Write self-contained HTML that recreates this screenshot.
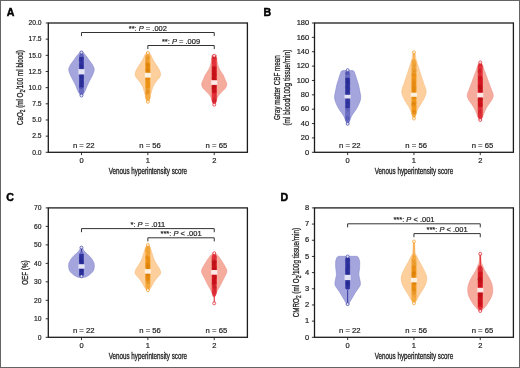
<!DOCTYPE html><html><head><meta charset="utf-8"><style>html,body{margin:0;padding:0;background:#fff}svg{display:block;filter:blur(0.25px)}text{font-family:"Liberation Sans", sans-serif;fill:#222;stroke:#222;stroke-width:0.2} text.tt{stroke-width:0.32} text.ty{stroke-width:0.28;fill:#222} text.pl{fill:#000;stroke:#000;stroke-width:0.45}</style></head><body>
<svg width="520" height="368" viewBox="0 0 520 368">
<rect x="0.5" y="0.5" width="519" height="367" fill="#fff" stroke="#646464" stroke-width="1"/>
<path d="M82.08,51.40 C82.48,51.83 83.67,53.07 84.48,54.00 C85.30,54.93 86.23,56.00 86.98,57.00 C87.73,58.00 88.15,58.83 88.98,60.00 C89.82,61.17 91.12,62.50 91.98,64.00 C92.85,65.50 94.02,67.33 94.18,69.00 C94.35,70.67 93.68,72.17 92.98,74.00 C92.28,75.83 90.90,78.17 89.98,80.00 C89.07,81.83 88.23,83.33 87.48,85.00 C86.73,86.67 86.07,88.67 85.48,90.00 C84.90,91.33 84.52,92.03 83.98,93.00 C83.45,93.97 82.57,95.33 82.28,95.80 L80.68,95.80 C80.40,95.33 79.52,93.97 78.98,93.00 C78.45,92.03 78.07,91.33 77.48,90.00 C76.90,88.67 76.23,86.67 75.48,85.00 C74.73,83.33 73.90,81.83 72.98,80.00 C72.07,78.17 70.68,75.83 69.98,74.00 C69.28,72.17 68.62,70.67 68.78,69.00 C68.95,67.33 70.12,65.50 70.98,64.00 C71.85,62.50 73.15,61.17 73.98,60.00 C74.82,58.83 75.23,58.00 75.98,57.00 C76.73,56.00 77.67,54.93 78.48,54.00 C79.30,53.07 80.48,51.83 80.88,51.40 Z" fill="#a4a5dc" stroke="#8588cc" stroke-width="0.6"/>
<line x1="81.48" y1="52.50" x2="81.48" y2="95.50" stroke="#3235a0" stroke-width="1.0"/>
<path d="M80.28,53.00 L82.68,53.00 L83.98,56.00 L83.98,92.00 L82.68,95.00 L80.28,95.00 L78.98,92.00 L78.98,56.00 Z" fill="#6a6dc2"/>
<rect x="79.28" y="57.00" width="4.4" height="30.50" fill="#3235a0"/>
<circle cx="81.82" cy="66.60" r="1.3" fill="none" stroke="#1e2080" stroke-width="0.4" stroke-opacity="0.45"/>
<circle cx="81.50" cy="68.36" r="1.3" fill="none" stroke="#1e2080" stroke-width="0.4" stroke-opacity="0.45"/>
<circle cx="81.32" cy="55.93" r="1.3" fill="none" stroke="#1e2080" stroke-width="0.4" stroke-opacity="0.45"/>
<circle cx="80.87" cy="87.73" r="1.3" fill="none" stroke="#1e2080" stroke-width="0.4" stroke-opacity="0.45"/>
<circle cx="82.53" cy="77.24" r="1.3" fill="none" stroke="#1e2080" stroke-width="0.4" stroke-opacity="0.45"/>
<circle cx="80.64" cy="65.16" r="1.3" fill="none" stroke="#1e2080" stroke-width="0.4" stroke-opacity="0.45"/>
<circle cx="80.78" cy="65.96" r="1.3" fill="none" stroke="#1e2080" stroke-width="0.4" stroke-opacity="0.45"/>
<circle cx="81.20" cy="77.43" r="1.3" fill="none" stroke="#1e2080" stroke-width="0.4" stroke-opacity="0.45"/>
<circle cx="80.51" cy="76.01" r="1.3" fill="none" stroke="#1e2080" stroke-width="0.4" stroke-opacity="0.45"/>
<circle cx="81.67" cy="70.96" r="1.3" fill="none" stroke="#1e2080" stroke-width="0.4" stroke-opacity="0.45"/>
<circle cx="82.13" cy="72.03" r="1.3" fill="none" stroke="#1e2080" stroke-width="0.4" stroke-opacity="0.45"/>
<circle cx="81.65" cy="82.36" r="1.3" fill="none" stroke="#1e2080" stroke-width="0.4" stroke-opacity="0.45"/>
<circle cx="82.54" cy="83.64" r="1.3" fill="none" stroke="#1e2080" stroke-width="0.4" stroke-opacity="0.45"/>
<circle cx="82.05" cy="57.96" r="1.3" fill="none" stroke="#1e2080" stroke-width="0.4" stroke-opacity="0.45"/>
<circle cx="80.47" cy="59.38" r="1.3" fill="none" stroke="#1e2080" stroke-width="0.4" stroke-opacity="0.45"/>
<circle cx="81.69" cy="66.18" r="1.3" fill="none" stroke="#1e2080" stroke-width="0.4" stroke-opacity="0.45"/>
<circle cx="82.23" cy="77.36" r="1.3" fill="none" stroke="#1e2080" stroke-width="0.4" stroke-opacity="0.45"/>
<circle cx="81.93" cy="80.89" r="1.3" fill="none" stroke="#1e2080" stroke-width="0.4" stroke-opacity="0.45"/>
<circle cx="81.23" cy="87.52" r="1.3" fill="none" stroke="#1e2080" stroke-width="0.4" stroke-opacity="0.45"/>
<circle cx="81.40" cy="81.08" r="1.3" fill="none" stroke="#1e2080" stroke-width="0.4" stroke-opacity="0.45"/>
<circle cx="80.51" cy="60.06" r="1.3" fill="none" stroke="#1e2080" stroke-width="0.4" stroke-opacity="0.45"/>
<circle cx="80.93" cy="85.27" r="1.3" fill="none" stroke="#1e2080" stroke-width="0.4" stroke-opacity="0.45"/>
<rect x="78.38" y="69.10" width="6.2" height="5.30" fill="#e4e4f4"/>
<circle cx="81.48" cy="52.50" r="1.5" fill="#fff" fill-opacity="0.8" stroke="#3235a0" stroke-width="0.7"/>
<circle cx="81.48" cy="95.50" r="1.5" fill="#fff" fill-opacity="0.8" stroke="#3235a0" stroke-width="0.7"/>
<path d="M148.45,52.00 C148.85,52.50 150.07,53.67 150.85,55.00 C151.63,56.33 152.23,58.33 153.15,60.00 C154.07,61.67 155.32,63.33 156.35,65.00 C157.38,66.67 158.65,68.50 159.35,70.00 C160.05,71.50 160.47,72.83 160.55,74.00 C160.63,75.17 160.38,76.00 159.85,77.00 C159.32,78.00 158.35,78.67 157.35,80.00 C156.35,81.33 154.77,83.33 153.85,85.00 C152.93,86.67 152.40,88.33 151.85,90.00 C151.30,91.67 150.97,93.33 150.55,95.00 C150.13,96.67 149.70,98.75 149.35,100.00 C149.00,101.25 148.60,102.08 148.45,102.50 L147.25,102.50 C147.10,102.08 146.70,101.25 146.35,100.00 C146.00,98.75 145.57,96.67 145.15,95.00 C144.73,93.33 144.40,91.67 143.85,90.00 C143.30,88.33 142.77,86.67 141.85,85.00 C140.93,83.33 139.35,81.33 138.35,80.00 C137.35,78.67 136.38,78.00 135.85,77.00 C135.32,76.00 135.07,75.17 135.15,74.00 C135.23,72.83 135.65,71.50 136.35,70.00 C137.05,68.50 138.32,66.67 139.35,65.00 C140.38,63.33 141.63,61.67 142.55,60.00 C143.47,58.33 144.07,56.33 144.85,55.00 C145.63,53.67 146.85,52.50 147.25,52.00 Z" fill="#fccf9c" stroke="#f9be80" stroke-width="0.6"/>
<line x1="147.85" y1="53.00" x2="147.85" y2="101.80" stroke="#f39a1e" stroke-width="1.0"/>
<path d="M146.65,53.50 L149.05,53.50 L150.35,56.50 L150.35,98.00 L149.05,101.00 L146.65,101.00 L145.35,98.00 L145.35,56.50 Z" fill="#f6ab40"/>
<rect x="145.65" y="62.45" width="4.4" height="25.34" fill="#f39a1e"/>
<circle cx="146.93" cy="72.07" r="1.3" fill="none" stroke="#d07808" stroke-width="0.4" stroke-opacity="0.45"/>
<circle cx="148.69" cy="74.84" r="1.3" fill="none" stroke="#d07808" stroke-width="0.4" stroke-opacity="0.45"/>
<circle cx="147.54" cy="66.73" r="1.3" fill="none" stroke="#d07808" stroke-width="0.4" stroke-opacity="0.45"/>
<circle cx="147.26" cy="60.67" r="1.3" fill="none" stroke="#d07808" stroke-width="0.4" stroke-opacity="0.45"/>
<circle cx="148.05" cy="64.58" r="1.3" fill="none" stroke="#d07808" stroke-width="0.4" stroke-opacity="0.45"/>
<circle cx="147.67" cy="65.98" r="1.3" fill="none" stroke="#d07808" stroke-width="0.4" stroke-opacity="0.45"/>
<circle cx="148.85" cy="71.04" r="1.3" fill="none" stroke="#d07808" stroke-width="0.4" stroke-opacity="0.45"/>
<circle cx="148.15" cy="72.45" r="1.3" fill="none" stroke="#d07808" stroke-width="0.4" stroke-opacity="0.45"/>
<circle cx="147.21" cy="56.46" r="1.3" fill="none" stroke="#d07808" stroke-width="0.4" stroke-opacity="0.45"/>
<circle cx="146.87" cy="61.21" r="1.3" fill="none" stroke="#d07808" stroke-width="0.4" stroke-opacity="0.45"/>
<circle cx="147.30" cy="82.67" r="1.3" fill="none" stroke="#d07808" stroke-width="0.4" stroke-opacity="0.45"/>
<circle cx="147.02" cy="70.00" r="1.3" fill="none" stroke="#d07808" stroke-width="0.4" stroke-opacity="0.45"/>
<circle cx="146.94" cy="75.63" r="1.3" fill="none" stroke="#d07808" stroke-width="0.4" stroke-opacity="0.45"/>
<circle cx="147.33" cy="58.35" r="1.3" fill="none" stroke="#d07808" stroke-width="0.4" stroke-opacity="0.45"/>
<circle cx="146.80" cy="92.87" r="1.3" fill="none" stroke="#d07808" stroke-width="0.4" stroke-opacity="0.45"/>
<circle cx="147.56" cy="86.57" r="1.3" fill="none" stroke="#d07808" stroke-width="0.4" stroke-opacity="0.45"/>
<circle cx="147.48" cy="78.80" r="1.3" fill="none" stroke="#d07808" stroke-width="0.4" stroke-opacity="0.45"/>
<circle cx="147.89" cy="88.64" r="1.3" fill="none" stroke="#d07808" stroke-width="0.4" stroke-opacity="0.45"/>
<circle cx="146.81" cy="70.39" r="1.3" fill="none" stroke="#d07808" stroke-width="0.4" stroke-opacity="0.45"/>
<circle cx="148.27" cy="66.77" r="1.3" fill="none" stroke="#d07808" stroke-width="0.4" stroke-opacity="0.45"/>
<circle cx="147.18" cy="63.97" r="1.3" fill="none" stroke="#d07808" stroke-width="0.4" stroke-opacity="0.45"/>
<circle cx="148.51" cy="76.27" r="1.3" fill="none" stroke="#d07808" stroke-width="0.4" stroke-opacity="0.45"/>
<circle cx="148.89" cy="69.29" r="1.3" fill="none" stroke="#d07808" stroke-width="0.4" stroke-opacity="0.45"/>
<circle cx="148.83" cy="72.30" r="1.3" fill="none" stroke="#d07808" stroke-width="0.4" stroke-opacity="0.45"/>
<circle cx="147.03" cy="87.93" r="1.3" fill="none" stroke="#d07808" stroke-width="0.4" stroke-opacity="0.45"/>
<circle cx="148.57" cy="91.81" r="1.3" fill="none" stroke="#d07808" stroke-width="0.4" stroke-opacity="0.45"/>
<circle cx="147.04" cy="70.14" r="1.3" fill="none" stroke="#d07808" stroke-width="0.4" stroke-opacity="0.45"/>
<circle cx="147.39" cy="63.52" r="1.3" fill="none" stroke="#d07808" stroke-width="0.4" stroke-opacity="0.45"/>
<circle cx="147.32" cy="64.93" r="1.3" fill="none" stroke="#d07808" stroke-width="0.4" stroke-opacity="0.45"/>
<circle cx="148.75" cy="73.40" r="1.3" fill="none" stroke="#d07808" stroke-width="0.4" stroke-opacity="0.45"/>
<circle cx="148.03" cy="70.30" r="1.3" fill="none" stroke="#d07808" stroke-width="0.4" stroke-opacity="0.45"/>
<circle cx="146.79" cy="78.76" r="1.3" fill="none" stroke="#d07808" stroke-width="0.4" stroke-opacity="0.45"/>
<circle cx="146.76" cy="74.41" r="1.3" fill="none" stroke="#d07808" stroke-width="0.4" stroke-opacity="0.45"/>
<circle cx="147.79" cy="91.46" r="1.3" fill="none" stroke="#d07808" stroke-width="0.4" stroke-opacity="0.45"/>
<circle cx="147.97" cy="68.98" r="1.3" fill="none" stroke="#d07808" stroke-width="0.4" stroke-opacity="0.45"/>
<circle cx="147.98" cy="90.75" r="1.3" fill="none" stroke="#d07808" stroke-width="0.4" stroke-opacity="0.45"/>
<circle cx="148.45" cy="65.30" r="1.3" fill="none" stroke="#d07808" stroke-width="0.4" stroke-opacity="0.45"/>
<circle cx="148.42" cy="77.62" r="1.3" fill="none" stroke="#d07808" stroke-width="0.4" stroke-opacity="0.45"/>
<circle cx="147.88" cy="82.60" r="1.3" fill="none" stroke="#d07808" stroke-width="0.4" stroke-opacity="0.45"/>
<circle cx="148.82" cy="78.83" r="1.3" fill="none" stroke="#d07808" stroke-width="0.4" stroke-opacity="0.45"/>
<circle cx="147.02" cy="93.40" r="1.3" fill="none" stroke="#d07808" stroke-width="0.4" stroke-opacity="0.45"/>
<circle cx="147.28" cy="74.50" r="1.3" fill="none" stroke="#d07808" stroke-width="0.4" stroke-opacity="0.45"/>
<circle cx="148.69" cy="84.86" r="1.3" fill="none" stroke="#d07808" stroke-width="0.4" stroke-opacity="0.45"/>
<circle cx="147.70" cy="93.04" r="1.3" fill="none" stroke="#d07808" stroke-width="0.4" stroke-opacity="0.45"/>
<circle cx="147.18" cy="77.99" r="1.3" fill="none" stroke="#d07808" stroke-width="0.4" stroke-opacity="0.45"/>
<circle cx="146.79" cy="68.63" r="1.3" fill="none" stroke="#d07808" stroke-width="0.4" stroke-opacity="0.45"/>
<circle cx="146.79" cy="79.82" r="1.3" fill="none" stroke="#d07808" stroke-width="0.4" stroke-opacity="0.45"/>
<circle cx="147.88" cy="69.25" r="1.3" fill="none" stroke="#d07808" stroke-width="0.4" stroke-opacity="0.45"/>
<circle cx="146.84" cy="58.48" r="1.3" fill="none" stroke="#d07808" stroke-width="0.4" stroke-opacity="0.45"/>
<circle cx="147.04" cy="90.50" r="1.3" fill="none" stroke="#d07808" stroke-width="0.4" stroke-opacity="0.45"/>
<circle cx="148.55" cy="73.56" r="1.3" fill="none" stroke="#d07808" stroke-width="0.4" stroke-opacity="0.45"/>
<circle cx="148.77" cy="65.78" r="1.3" fill="none" stroke="#d07808" stroke-width="0.4" stroke-opacity="0.45"/>
<circle cx="148.26" cy="57.75" r="1.3" fill="none" stroke="#d07808" stroke-width="0.4" stroke-opacity="0.45"/>
<circle cx="148.81" cy="73.70" r="1.3" fill="none" stroke="#d07808" stroke-width="0.4" stroke-opacity="0.45"/>
<circle cx="147.97" cy="75.05" r="1.3" fill="none" stroke="#d07808" stroke-width="0.4" stroke-opacity="0.45"/>
<circle cx="147.11" cy="64.83" r="1.3" fill="none" stroke="#d07808" stroke-width="0.4" stroke-opacity="0.45"/>
<rect x="144.75" y="72.80" width="6.2" height="4.80" fill="#fcf0e0"/>
<circle cx="147.85" cy="53.00" r="1.5" fill="#fff" fill-opacity="0.8" stroke="#f39a1e" stroke-width="0.7"/>
<circle cx="147.85" cy="101.80" r="1.5" fill="#fff" fill-opacity="0.8" stroke="#f39a1e" stroke-width="0.7"/>
<path d="M216.52,55.30 C216.58,56.08 216.70,58.38 216.92,60.00 C217.13,61.62 217.32,63.33 217.82,65.00 C218.32,66.67 219.02,68.33 219.92,70.00 C220.82,71.67 222.33,73.33 223.22,75.00 C224.10,76.67 224.62,78.50 225.22,80.00 C225.82,81.50 226.77,82.67 226.82,84.00 C226.87,85.33 226.38,86.67 225.52,88.00 C224.65,89.33 222.85,90.67 221.62,92.00 C220.38,93.33 218.98,94.67 218.12,96.00 C217.25,97.33 216.93,98.58 216.42,100.00 C215.90,101.42 215.25,103.75 215.02,104.50 L213.42,104.50 C213.18,103.75 212.53,101.42 212.02,100.00 C211.50,98.58 211.18,97.33 210.32,96.00 C209.45,94.67 208.05,93.33 206.82,92.00 C205.58,90.67 203.78,89.33 202.92,88.00 C202.05,86.67 201.57,85.33 201.62,84.00 C201.67,82.67 202.62,81.50 203.22,80.00 C203.82,78.50 204.33,76.67 205.22,75.00 C206.10,73.33 207.62,71.67 208.52,70.00 C209.42,68.33 210.12,66.67 210.62,65.00 C211.12,63.33 211.30,61.62 211.52,60.00 C211.73,58.38 211.85,56.08 211.92,55.30 Z" fill="#f5ac9c" stroke="#ef948c" stroke-width="0.6"/>
<line x1="214.22" y1="55.80" x2="214.22" y2="104.70" stroke="#de1826" stroke-width="1.0"/>
<path d="M213.02,55.50 L215.42,55.50 L216.72,58.50 L216.72,101.00 L215.42,104.00 L213.02,104.00 L211.72,101.00 L211.72,58.50 Z" fill="#e5343e"/>
<rect x="212.02" y="66.88" width="4.4" height="26.28" fill="#de1826"/>
<circle cx="214.79" cy="70.63" r="1.3" fill="none" stroke="#b01018" stroke-width="0.4" stroke-opacity="0.45"/>
<circle cx="214.16" cy="82.23" r="1.3" fill="none" stroke="#b01018" stroke-width="0.4" stroke-opacity="0.45"/>
<circle cx="214.92" cy="100.83" r="1.3" fill="none" stroke="#b01018" stroke-width="0.4" stroke-opacity="0.45"/>
<circle cx="214.95" cy="76.46" r="1.3" fill="none" stroke="#b01018" stroke-width="0.4" stroke-opacity="0.45"/>
<circle cx="214.63" cy="74.56" r="1.3" fill="none" stroke="#b01018" stroke-width="0.4" stroke-opacity="0.45"/>
<circle cx="213.88" cy="86.34" r="1.3" fill="none" stroke="#b01018" stroke-width="0.4" stroke-opacity="0.45"/>
<circle cx="213.27" cy="58.14" r="1.3" fill="none" stroke="#b01018" stroke-width="0.4" stroke-opacity="0.45"/>
<circle cx="213.48" cy="91.43" r="1.3" fill="none" stroke="#b01018" stroke-width="0.4" stroke-opacity="0.45"/>
<circle cx="213.76" cy="69.17" r="1.3" fill="none" stroke="#b01018" stroke-width="0.4" stroke-opacity="0.45"/>
<circle cx="214.10" cy="77.78" r="1.3" fill="none" stroke="#b01018" stroke-width="0.4" stroke-opacity="0.45"/>
<circle cx="213.12" cy="70.51" r="1.3" fill="none" stroke="#b01018" stroke-width="0.4" stroke-opacity="0.45"/>
<circle cx="214.22" cy="74.01" r="1.3" fill="none" stroke="#b01018" stroke-width="0.4" stroke-opacity="0.45"/>
<circle cx="213.79" cy="57.52" r="1.3" fill="none" stroke="#b01018" stroke-width="0.4" stroke-opacity="0.45"/>
<circle cx="214.56" cy="81.17" r="1.3" fill="none" stroke="#b01018" stroke-width="0.4" stroke-opacity="0.45"/>
<circle cx="215.28" cy="74.39" r="1.3" fill="none" stroke="#b01018" stroke-width="0.4" stroke-opacity="0.45"/>
<circle cx="214.95" cy="86.70" r="1.3" fill="none" stroke="#b01018" stroke-width="0.4" stroke-opacity="0.45"/>
<circle cx="214.89" cy="79.96" r="1.3" fill="none" stroke="#b01018" stroke-width="0.4" stroke-opacity="0.45"/>
<circle cx="213.19" cy="89.13" r="1.3" fill="none" stroke="#b01018" stroke-width="0.4" stroke-opacity="0.45"/>
<circle cx="214.49" cy="82.59" r="1.3" fill="none" stroke="#b01018" stroke-width="0.4" stroke-opacity="0.45"/>
<circle cx="213.12" cy="88.51" r="1.3" fill="none" stroke="#b01018" stroke-width="0.4" stroke-opacity="0.45"/>
<circle cx="214.57" cy="79.89" r="1.3" fill="none" stroke="#b01018" stroke-width="0.4" stroke-opacity="0.45"/>
<circle cx="213.70" cy="67.73" r="1.3" fill="none" stroke="#b01018" stroke-width="0.4" stroke-opacity="0.45"/>
<circle cx="214.74" cy="90.87" r="1.3" fill="none" stroke="#b01018" stroke-width="0.4" stroke-opacity="0.45"/>
<circle cx="214.62" cy="74.05" r="1.3" fill="none" stroke="#b01018" stroke-width="0.4" stroke-opacity="0.45"/>
<circle cx="213.44" cy="86.67" r="1.3" fill="none" stroke="#b01018" stroke-width="0.4" stroke-opacity="0.45"/>
<circle cx="213.71" cy="56.10" r="1.3" fill="none" stroke="#b01018" stroke-width="0.4" stroke-opacity="0.45"/>
<circle cx="214.60" cy="88.09" r="1.3" fill="none" stroke="#b01018" stroke-width="0.4" stroke-opacity="0.45"/>
<circle cx="213.38" cy="78.04" r="1.3" fill="none" stroke="#b01018" stroke-width="0.4" stroke-opacity="0.45"/>
<circle cx="215.27" cy="98.84" r="1.3" fill="none" stroke="#b01018" stroke-width="0.4" stroke-opacity="0.45"/>
<circle cx="214.13" cy="100.91" r="1.3" fill="none" stroke="#b01018" stroke-width="0.4" stroke-opacity="0.45"/>
<circle cx="213.58" cy="77.30" r="1.3" fill="none" stroke="#b01018" stroke-width="0.4" stroke-opacity="0.45"/>
<circle cx="214.27" cy="83.70" r="1.3" fill="none" stroke="#b01018" stroke-width="0.4" stroke-opacity="0.45"/>
<circle cx="213.12" cy="79.08" r="1.3" fill="none" stroke="#b01018" stroke-width="0.4" stroke-opacity="0.45"/>
<circle cx="213.78" cy="79.35" r="1.3" fill="none" stroke="#b01018" stroke-width="0.4" stroke-opacity="0.45"/>
<circle cx="215.15" cy="96.20" r="1.3" fill="none" stroke="#b01018" stroke-width="0.4" stroke-opacity="0.45"/>
<circle cx="213.98" cy="69.56" r="1.3" fill="none" stroke="#b01018" stroke-width="0.4" stroke-opacity="0.45"/>
<circle cx="213.72" cy="72.99" r="1.3" fill="none" stroke="#b01018" stroke-width="0.4" stroke-opacity="0.45"/>
<circle cx="214.95" cy="57.84" r="1.3" fill="none" stroke="#b01018" stroke-width="0.4" stroke-opacity="0.45"/>
<circle cx="214.24" cy="67.59" r="1.3" fill="none" stroke="#b01018" stroke-width="0.4" stroke-opacity="0.45"/>
<circle cx="213.23" cy="82.14" r="1.3" fill="none" stroke="#b01018" stroke-width="0.4" stroke-opacity="0.45"/>
<circle cx="214.77" cy="91.02" r="1.3" fill="none" stroke="#b01018" stroke-width="0.4" stroke-opacity="0.45"/>
<circle cx="213.22" cy="86.76" r="1.3" fill="none" stroke="#b01018" stroke-width="0.4" stroke-opacity="0.45"/>
<circle cx="214.16" cy="100.45" r="1.3" fill="none" stroke="#b01018" stroke-width="0.4" stroke-opacity="0.45"/>
<circle cx="214.74" cy="72.17" r="1.3" fill="none" stroke="#b01018" stroke-width="0.4" stroke-opacity="0.45"/>
<circle cx="214.34" cy="87.32" r="1.3" fill="none" stroke="#b01018" stroke-width="0.4" stroke-opacity="0.45"/>
<circle cx="213.47" cy="74.63" r="1.3" fill="none" stroke="#b01018" stroke-width="0.4" stroke-opacity="0.45"/>
<circle cx="215.11" cy="79.61" r="1.3" fill="none" stroke="#b01018" stroke-width="0.4" stroke-opacity="0.45"/>
<circle cx="213.32" cy="62.27" r="1.3" fill="none" stroke="#b01018" stroke-width="0.4" stroke-opacity="0.45"/>
<circle cx="213.64" cy="72.08" r="1.3" fill="none" stroke="#b01018" stroke-width="0.4" stroke-opacity="0.45"/>
<circle cx="214.27" cy="75.52" r="1.3" fill="none" stroke="#b01018" stroke-width="0.4" stroke-opacity="0.45"/>
<circle cx="213.25" cy="73.78" r="1.3" fill="none" stroke="#b01018" stroke-width="0.4" stroke-opacity="0.45"/>
<circle cx="213.59" cy="86.04" r="1.3" fill="none" stroke="#b01018" stroke-width="0.4" stroke-opacity="0.45"/>
<circle cx="214.00" cy="68.64" r="1.3" fill="none" stroke="#b01018" stroke-width="0.4" stroke-opacity="0.45"/>
<circle cx="214.68" cy="56.56" r="1.3" fill="none" stroke="#b01018" stroke-width="0.4" stroke-opacity="0.45"/>
<circle cx="213.98" cy="83.98" r="1.3" fill="none" stroke="#b01018" stroke-width="0.4" stroke-opacity="0.45"/>
<circle cx="213.46" cy="67.55" r="1.3" fill="none" stroke="#b01018" stroke-width="0.4" stroke-opacity="0.45"/>
<circle cx="215.19" cy="80.83" r="1.3" fill="none" stroke="#b01018" stroke-width="0.4" stroke-opacity="0.45"/>
<circle cx="214.80" cy="90.50" r="1.3" fill="none" stroke="#b01018" stroke-width="0.4" stroke-opacity="0.45"/>
<circle cx="213.20" cy="77.68" r="1.3" fill="none" stroke="#b01018" stroke-width="0.4" stroke-opacity="0.45"/>
<circle cx="215.14" cy="93.44" r="1.3" fill="none" stroke="#b01018" stroke-width="0.4" stroke-opacity="0.45"/>
<circle cx="213.40" cy="86.81" r="1.3" fill="none" stroke="#b01018" stroke-width="0.4" stroke-opacity="0.45"/>
<circle cx="213.27" cy="89.38" r="1.3" fill="none" stroke="#b01018" stroke-width="0.4" stroke-opacity="0.45"/>
<circle cx="213.97" cy="80.94" r="1.3" fill="none" stroke="#b01018" stroke-width="0.4" stroke-opacity="0.45"/>
<circle cx="214.16" cy="86.76" r="1.3" fill="none" stroke="#b01018" stroke-width="0.4" stroke-opacity="0.45"/>
<circle cx="215.23" cy="66.89" r="1.3" fill="none" stroke="#b01018" stroke-width="0.4" stroke-opacity="0.45"/>
<rect x="211.12" y="80.20" width="6.2" height="4.70" fill="#fce8e4"/>
<circle cx="214.22" cy="55.80" r="1.5" fill="#fff" fill-opacity="0.8" stroke="#de1826" stroke-width="0.7"/>
<circle cx="214.22" cy="104.70" r="1.5" fill="#fff" fill-opacity="0.8" stroke="#de1826" stroke-width="0.7"/>
<rect x="48.3" y="23" width="199.10000000000002" height="129.3" fill="none" stroke="#1c1c1c" stroke-width="1.3"/>
<line x1="45.699999999999996" y1="152.30" x2="48.3" y2="152.30" stroke="#1c1c1c" stroke-width="0.9"/>
<text transform="translate(41.60,154.50) scale(0.9,1)" text-anchor="end" font-size="7.5">0.0</text>
<line x1="45.699999999999996" y1="136.14" x2="48.3" y2="136.14" stroke="#1c1c1c" stroke-width="0.9"/>
<text transform="translate(41.60,138.34) scale(0.9,1)" text-anchor="end" font-size="7.5">2.5</text>
<line x1="45.699999999999996" y1="119.98" x2="48.3" y2="119.98" stroke="#1c1c1c" stroke-width="0.9"/>
<text transform="translate(41.60,122.18) scale(0.9,1)" text-anchor="end" font-size="7.5">5.0</text>
<line x1="45.699999999999996" y1="103.81" x2="48.3" y2="103.81" stroke="#1c1c1c" stroke-width="0.9"/>
<text transform="translate(41.60,106.01) scale(0.9,1)" text-anchor="end" font-size="7.5">7.5</text>
<line x1="45.699999999999996" y1="87.65" x2="48.3" y2="87.65" stroke="#1c1c1c" stroke-width="0.9"/>
<text transform="translate(41.60,89.85) scale(0.9,1)" text-anchor="end" font-size="7.5">10.0</text>
<line x1="45.699999999999996" y1="71.49" x2="48.3" y2="71.49" stroke="#1c1c1c" stroke-width="0.9"/>
<text transform="translate(41.60,73.69) scale(0.9,1)" text-anchor="end" font-size="7.5">12.5</text>
<line x1="45.699999999999996" y1="55.33" x2="48.3" y2="55.33" stroke="#1c1c1c" stroke-width="0.9"/>
<text transform="translate(41.60,57.53) scale(0.9,1)" text-anchor="end" font-size="7.5">15.0</text>
<line x1="45.699999999999996" y1="39.16" x2="48.3" y2="39.16" stroke="#1c1c1c" stroke-width="0.9"/>
<text transform="translate(41.60,41.36) scale(0.9,1)" text-anchor="end" font-size="7.5">17.5</text>
<line x1="45.699999999999996" y1="23.00" x2="48.3" y2="23.00" stroke="#1c1c1c" stroke-width="0.9"/>
<text transform="translate(41.60,25.20) scale(0.9,1)" text-anchor="end" font-size="7.5">20.0</text>
<line x1="81.48" y1="152.3" x2="81.48" y2="155.10000000000002" stroke="#1c1c1c" stroke-width="0.9"/>
<text x="81.48" y="163.10000000000002" text-anchor="middle" font-size="7.5">0</text>
<line x1="147.85" y1="152.3" x2="147.85" y2="155.10000000000002" stroke="#1c1c1c" stroke-width="0.9"/>
<text x="147.85" y="163.10000000000002" text-anchor="middle" font-size="7.5">1</text>
<line x1="214.22" y1="152.3" x2="214.22" y2="155.10000000000002" stroke="#1c1c1c" stroke-width="0.9"/>
<text x="214.22" y="163.10000000000002" text-anchor="middle" font-size="7.5">2</text>
<text x="83.68" y="147.9" text-anchor="middle" font-size="7.7">n = 22</text>
<text x="150.05" y="147.9" text-anchor="middle" font-size="7.7">n = 56</text>
<text x="216.42" y="147.9" text-anchor="middle" font-size="7.7">n = 65</text>
<text transform="translate(147.85,174.3) scale(0.72,1)" text-anchor="middle" font-size="8.7" class="tt">Venous hyperintensity score</text>
<text x="6.7" y="15.6" font-size="10.6" font-weight="bold" class="pl">A</text>
<path d="M81.48,36.10 V32.50 H214.22 V36.10" fill="none" stroke="#333" stroke-width="1"/>
<text x="147.85" y="30.90" text-anchor="middle" font-size="7.5">**: <tspan font-style="italic">P</tspan> = .002</text>
<path d="M147.85,49.10 V45.50 H214.22 V49.10" fill="none" stroke="#333" stroke-width="1"/>
<text x="181.03" y="43.90" text-anchor="middle" font-size="7.5">**: <tspan font-style="italic">P</tspan> = .009</text>
<text transform="translate(22.6,87.65) rotate(-90) scale(0.72,1)" text-anchor="middle" font-size="8.7" class="ty">CaO<tspan font-size="6.6" dy="1.9">2</tspan><tspan dy="-1.9"> (ml O<tspan font-size="6.6" dy="1.9">2</tspan><tspan dy="-1.9">/100 ml blood)</tspan></tspan></text>
<path d="M352.15,70.60 C352.43,70.70 353.43,70.80 353.85,71.20 C354.27,71.60 354.33,72.20 354.65,73.00 C354.97,73.80 355.37,74.83 355.75,76.00 C356.13,77.17 356.53,78.67 356.95,80.00 C357.37,81.33 357.88,82.67 358.25,84.00 C358.62,85.33 358.87,86.67 359.15,88.00 C359.43,89.33 359.70,90.67 359.95,92.00 C360.20,93.33 360.58,94.67 360.65,96.00 C360.72,97.33 360.65,98.67 360.35,100.00 C360.05,101.33 359.42,102.67 358.85,104.00 C358.28,105.33 357.72,106.67 356.95,108.00 C356.18,109.33 355.15,110.67 354.25,112.00 C353.35,113.33 352.28,114.67 351.55,116.00 C350.82,117.33 350.40,118.67 349.85,120.00 C349.30,121.33 348.52,123.33 348.25,124.00 L347.05,124.00 C346.78,123.33 346.00,121.33 345.45,120.00 C344.90,118.67 344.48,117.33 343.75,116.00 C343.02,114.67 341.95,113.33 341.05,112.00 C340.15,110.67 339.12,109.33 338.35,108.00 C337.58,106.67 337.02,105.33 336.45,104.00 C335.88,102.67 335.25,101.33 334.95,100.00 C334.65,98.67 334.58,97.33 334.65,96.00 C334.72,94.67 335.10,93.33 335.35,92.00 C335.60,90.67 335.87,89.33 336.15,88.00 C336.43,86.67 336.68,85.33 337.05,84.00 C337.42,82.67 337.93,81.33 338.35,80.00 C338.77,78.67 339.17,77.17 339.55,76.00 C339.93,74.83 340.33,73.80 340.65,73.00 C340.97,72.20 341.03,71.60 341.45,71.20 C341.87,70.80 342.87,70.70 343.15,70.60 Z" fill="#a4a5dc" stroke="#8588cc" stroke-width="0.6"/>
<line x1="347.65" y1="70.20" x2="347.65" y2="123.80" stroke="#3235a0" stroke-width="1.0"/>
<path d="M346.45,70.50 L348.85,70.50 L350.15,73.50 L350.15,120.00 L348.85,123.00 L346.45,123.00 L345.15,120.00 L345.15,73.50 Z" fill="#6a6dc2"/>
<rect x="345.45" y="78.00" width="4.4" height="30.00" fill="#3235a0"/>
<circle cx="346.60" cy="107.49" r="1.3" fill="none" stroke="#1e2080" stroke-width="0.4" stroke-opacity="0.45"/>
<circle cx="347.47" cy="96.66" r="1.3" fill="none" stroke="#1e2080" stroke-width="0.4" stroke-opacity="0.45"/>
<circle cx="348.59" cy="84.01" r="1.3" fill="none" stroke="#1e2080" stroke-width="0.4" stroke-opacity="0.45"/>
<circle cx="347.29" cy="82.41" r="1.3" fill="none" stroke="#1e2080" stroke-width="0.4" stroke-opacity="0.45"/>
<circle cx="346.99" cy="92.58" r="1.3" fill="none" stroke="#1e2080" stroke-width="0.4" stroke-opacity="0.45"/>
<circle cx="348.68" cy="97.01" r="1.3" fill="none" stroke="#1e2080" stroke-width="0.4" stroke-opacity="0.45"/>
<circle cx="347.06" cy="86.87" r="1.3" fill="none" stroke="#1e2080" stroke-width="0.4" stroke-opacity="0.45"/>
<circle cx="347.20" cy="82.13" r="1.3" fill="none" stroke="#1e2080" stroke-width="0.4" stroke-opacity="0.45"/>
<circle cx="347.47" cy="80.33" r="1.3" fill="none" stroke="#1e2080" stroke-width="0.4" stroke-opacity="0.45"/>
<circle cx="347.02" cy="78.19" r="1.3" fill="none" stroke="#1e2080" stroke-width="0.4" stroke-opacity="0.45"/>
<circle cx="347.42" cy="73.22" r="1.3" fill="none" stroke="#1e2080" stroke-width="0.4" stroke-opacity="0.45"/>
<circle cx="348.01" cy="109.68" r="1.3" fill="none" stroke="#1e2080" stroke-width="0.4" stroke-opacity="0.45"/>
<circle cx="347.28" cy="90.38" r="1.3" fill="none" stroke="#1e2080" stroke-width="0.4" stroke-opacity="0.45"/>
<circle cx="347.17" cy="79.39" r="1.3" fill="none" stroke="#1e2080" stroke-width="0.4" stroke-opacity="0.45"/>
<circle cx="348.36" cy="81.39" r="1.3" fill="none" stroke="#1e2080" stroke-width="0.4" stroke-opacity="0.45"/>
<circle cx="347.37" cy="73.09" r="1.3" fill="none" stroke="#1e2080" stroke-width="0.4" stroke-opacity="0.45"/>
<circle cx="347.35" cy="118.77" r="1.3" fill="none" stroke="#1e2080" stroke-width="0.4" stroke-opacity="0.45"/>
<circle cx="347.45" cy="117.59" r="1.3" fill="none" stroke="#1e2080" stroke-width="0.4" stroke-opacity="0.45"/>
<circle cx="346.69" cy="72.63" r="1.3" fill="none" stroke="#1e2080" stroke-width="0.4" stroke-opacity="0.45"/>
<circle cx="348.66" cy="88.30" r="1.3" fill="none" stroke="#1e2080" stroke-width="0.4" stroke-opacity="0.45"/>
<circle cx="348.13" cy="102.89" r="1.3" fill="none" stroke="#1e2080" stroke-width="0.4" stroke-opacity="0.45"/>
<circle cx="346.56" cy="87.12" r="1.3" fill="none" stroke="#1e2080" stroke-width="0.4" stroke-opacity="0.45"/>
<rect x="344.55" y="94.80" width="6.2" height="3.70" fill="#e4e4f4"/>
<circle cx="347.65" cy="70.20" r="1.5" fill="#fff" fill-opacity="0.8" stroke="#3235a0" stroke-width="0.7"/>
<circle cx="347.65" cy="123.80" r="1.5" fill="#fff" fill-opacity="0.8" stroke="#3235a0" stroke-width="0.7"/>
<path d="M414.75,52.00 C414.83,52.33 415.02,52.67 415.25,54.00 C415.48,55.33 415.73,58.17 416.15,60.00 C416.57,61.83 417.22,63.33 417.75,65.00 C418.28,66.67 418.82,68.33 419.35,70.00 C419.88,71.67 420.40,73.33 420.95,75.00 C421.50,76.67 422.10,78.33 422.65,80.00 C423.20,81.67 423.78,83.67 424.25,85.00 C424.72,86.33 425.13,86.83 425.45,88.00 C425.77,89.17 426.20,90.67 426.15,92.00 C426.10,93.33 425.63,94.67 425.15,96.00 C424.67,97.33 423.97,98.67 423.25,100.00 C422.53,101.33 421.67,102.67 420.85,104.00 C420.03,105.33 419.05,106.67 418.35,108.00 C417.65,109.33 417.13,110.67 416.65,112.00 C416.17,113.33 415.82,114.83 415.45,116.00 C415.08,117.17 414.62,118.50 414.45,119.00 L413.45,119.00 C413.28,118.50 412.82,117.17 412.45,116.00 C412.08,114.83 411.73,113.33 411.25,112.00 C410.77,110.67 410.25,109.33 409.55,108.00 C408.85,106.67 407.87,105.33 407.05,104.00 C406.23,102.67 405.37,101.33 404.65,100.00 C403.93,98.67 403.23,97.33 402.75,96.00 C402.27,94.67 401.80,93.33 401.75,92.00 C401.70,90.67 402.13,89.17 402.45,88.00 C402.77,86.83 403.18,86.33 403.65,85.00 C404.12,83.67 404.70,81.67 405.25,80.00 C405.80,78.33 406.40,76.67 406.95,75.00 C407.50,73.33 408.02,71.67 408.55,70.00 C409.08,68.33 409.62,66.67 410.15,65.00 C410.68,63.33 411.33,61.83 411.75,60.00 C412.17,58.17 412.42,55.33 412.65,54.00 C412.88,52.67 413.07,52.33 413.15,52.00 Z" fill="#fccf9c" stroke="#f9be80" stroke-width="0.6"/>
<line x1="413.95" y1="52.30" x2="413.95" y2="118.50" stroke="#f39a1e" stroke-width="1.0"/>
<path d="M412.75,59.00 L415.15,59.00 L416.45,62.00 L416.45,114.00 L415.15,117.00 L412.75,117.00 L411.45,114.00 L411.45,62.00 Z" fill="#f6ab40"/>
<rect x="411.75" y="74.00" width="4.4" height="38.00" fill="#f39a1e"/>
<circle cx="413.94" cy="73.56" r="1.3" fill="none" stroke="#d07808" stroke-width="0.4" stroke-opacity="0.45"/>
<circle cx="414.62" cy="112.83" r="1.3" fill="none" stroke="#d07808" stroke-width="0.4" stroke-opacity="0.45"/>
<circle cx="413.65" cy="78.01" r="1.3" fill="none" stroke="#d07808" stroke-width="0.4" stroke-opacity="0.45"/>
<circle cx="413.28" cy="104.37" r="1.3" fill="none" stroke="#d07808" stroke-width="0.4" stroke-opacity="0.45"/>
<circle cx="412.99" cy="102.67" r="1.3" fill="none" stroke="#d07808" stroke-width="0.4" stroke-opacity="0.45"/>
<circle cx="413.06" cy="74.36" r="1.3" fill="none" stroke="#d07808" stroke-width="0.4" stroke-opacity="0.45"/>
<circle cx="413.83" cy="87.91" r="1.3" fill="none" stroke="#d07808" stroke-width="0.4" stroke-opacity="0.45"/>
<circle cx="414.21" cy="72.58" r="1.3" fill="none" stroke="#d07808" stroke-width="0.4" stroke-opacity="0.45"/>
<circle cx="414.71" cy="98.10" r="1.3" fill="none" stroke="#d07808" stroke-width="0.4" stroke-opacity="0.45"/>
<circle cx="414.70" cy="97.54" r="1.3" fill="none" stroke="#d07808" stroke-width="0.4" stroke-opacity="0.45"/>
<circle cx="413.39" cy="70.55" r="1.3" fill="none" stroke="#d07808" stroke-width="0.4" stroke-opacity="0.45"/>
<circle cx="413.72" cy="92.54" r="1.3" fill="none" stroke="#d07808" stroke-width="0.4" stroke-opacity="0.45"/>
<circle cx="413.50" cy="112.03" r="1.3" fill="none" stroke="#d07808" stroke-width="0.4" stroke-opacity="0.45"/>
<circle cx="414.99" cy="65.91" r="1.3" fill="none" stroke="#d07808" stroke-width="0.4" stroke-opacity="0.45"/>
<circle cx="414.56" cy="85.05" r="1.3" fill="none" stroke="#d07808" stroke-width="0.4" stroke-opacity="0.45"/>
<circle cx="414.16" cy="113.85" r="1.3" fill="none" stroke="#d07808" stroke-width="0.4" stroke-opacity="0.45"/>
<circle cx="413.66" cy="94.96" r="1.3" fill="none" stroke="#d07808" stroke-width="0.4" stroke-opacity="0.45"/>
<circle cx="413.41" cy="67.20" r="1.3" fill="none" stroke="#d07808" stroke-width="0.4" stroke-opacity="0.45"/>
<circle cx="413.30" cy="93.77" r="1.3" fill="none" stroke="#d07808" stroke-width="0.4" stroke-opacity="0.45"/>
<circle cx="413.54" cy="98.34" r="1.3" fill="none" stroke="#d07808" stroke-width="0.4" stroke-opacity="0.45"/>
<circle cx="413.07" cy="90.79" r="1.3" fill="none" stroke="#d07808" stroke-width="0.4" stroke-opacity="0.45"/>
<circle cx="414.26" cy="81.93" r="1.3" fill="none" stroke="#d07808" stroke-width="0.4" stroke-opacity="0.45"/>
<circle cx="414.38" cy="64.29" r="1.3" fill="none" stroke="#d07808" stroke-width="0.4" stroke-opacity="0.45"/>
<circle cx="413.53" cy="82.77" r="1.3" fill="none" stroke="#d07808" stroke-width="0.4" stroke-opacity="0.45"/>
<circle cx="413.77" cy="91.86" r="1.3" fill="none" stroke="#d07808" stroke-width="0.4" stroke-opacity="0.45"/>
<circle cx="414.45" cy="80.10" r="1.3" fill="none" stroke="#d07808" stroke-width="0.4" stroke-opacity="0.45"/>
<circle cx="414.83" cy="70.81" r="1.3" fill="none" stroke="#d07808" stroke-width="0.4" stroke-opacity="0.45"/>
<circle cx="412.88" cy="85.73" r="1.3" fill="none" stroke="#d07808" stroke-width="0.4" stroke-opacity="0.45"/>
<circle cx="414.85" cy="90.99" r="1.3" fill="none" stroke="#d07808" stroke-width="0.4" stroke-opacity="0.45"/>
<circle cx="413.17" cy="80.51" r="1.3" fill="none" stroke="#d07808" stroke-width="0.4" stroke-opacity="0.45"/>
<circle cx="414.89" cy="75.43" r="1.3" fill="none" stroke="#d07808" stroke-width="0.4" stroke-opacity="0.45"/>
<circle cx="414.92" cy="70.45" r="1.3" fill="none" stroke="#d07808" stroke-width="0.4" stroke-opacity="0.45"/>
<circle cx="413.20" cy="94.98" r="1.3" fill="none" stroke="#d07808" stroke-width="0.4" stroke-opacity="0.45"/>
<circle cx="413.74" cy="104.58" r="1.3" fill="none" stroke="#d07808" stroke-width="0.4" stroke-opacity="0.45"/>
<circle cx="413.73" cy="69.61" r="1.3" fill="none" stroke="#d07808" stroke-width="0.4" stroke-opacity="0.45"/>
<circle cx="413.12" cy="89.04" r="1.3" fill="none" stroke="#d07808" stroke-width="0.4" stroke-opacity="0.45"/>
<circle cx="414.09" cy="111.04" r="1.3" fill="none" stroke="#d07808" stroke-width="0.4" stroke-opacity="0.45"/>
<circle cx="414.69" cy="102.93" r="1.3" fill="none" stroke="#d07808" stroke-width="0.4" stroke-opacity="0.45"/>
<circle cx="413.52" cy="90.90" r="1.3" fill="none" stroke="#d07808" stroke-width="0.4" stroke-opacity="0.45"/>
<circle cx="413.79" cy="83.36" r="1.3" fill="none" stroke="#d07808" stroke-width="0.4" stroke-opacity="0.45"/>
<circle cx="413.81" cy="97.21" r="1.3" fill="none" stroke="#d07808" stroke-width="0.4" stroke-opacity="0.45"/>
<circle cx="414.53" cy="87.39" r="1.3" fill="none" stroke="#d07808" stroke-width="0.4" stroke-opacity="0.45"/>
<circle cx="413.25" cy="104.24" r="1.3" fill="none" stroke="#d07808" stroke-width="0.4" stroke-opacity="0.45"/>
<circle cx="413.13" cy="86.45" r="1.3" fill="none" stroke="#d07808" stroke-width="0.4" stroke-opacity="0.45"/>
<circle cx="413.82" cy="83.97" r="1.3" fill="none" stroke="#d07808" stroke-width="0.4" stroke-opacity="0.45"/>
<circle cx="414.25" cy="88.59" r="1.3" fill="none" stroke="#d07808" stroke-width="0.4" stroke-opacity="0.45"/>
<circle cx="412.97" cy="104.10" r="1.3" fill="none" stroke="#d07808" stroke-width="0.4" stroke-opacity="0.45"/>
<circle cx="414.94" cy="88.23" r="1.3" fill="none" stroke="#d07808" stroke-width="0.4" stroke-opacity="0.45"/>
<circle cx="415.01" cy="106.27" r="1.3" fill="none" stroke="#d07808" stroke-width="0.4" stroke-opacity="0.45"/>
<circle cx="414.58" cy="112.13" r="1.3" fill="none" stroke="#d07808" stroke-width="0.4" stroke-opacity="0.45"/>
<circle cx="413.62" cy="112.97" r="1.3" fill="none" stroke="#d07808" stroke-width="0.4" stroke-opacity="0.45"/>
<circle cx="414.82" cy="102.86" r="1.3" fill="none" stroke="#d07808" stroke-width="0.4" stroke-opacity="0.45"/>
<circle cx="413.55" cy="74.25" r="1.3" fill="none" stroke="#d07808" stroke-width="0.4" stroke-opacity="0.45"/>
<circle cx="413.20" cy="61.14" r="1.3" fill="none" stroke="#d07808" stroke-width="0.4" stroke-opacity="0.45"/>
<circle cx="414.58" cy="110.93" r="1.3" fill="none" stroke="#d07808" stroke-width="0.4" stroke-opacity="0.45"/>
<circle cx="414.77" cy="95.91" r="1.3" fill="none" stroke="#d07808" stroke-width="0.4" stroke-opacity="0.45"/>
<rect x="410.85" y="92.70" width="6.2" height="4.10" fill="#fcf0e0"/>
<circle cx="413.95" cy="52.30" r="1.5" fill="#fff" fill-opacity="0.8" stroke="#f39a1e" stroke-width="0.7"/>
<circle cx="413.95" cy="118.50" r="1.5" fill="#fff" fill-opacity="0.8" stroke="#f39a1e" stroke-width="0.7"/>
<path d="M481.05,62.40 C481.37,63.00 482.43,64.73 482.95,66.00 C483.47,67.27 483.70,68.67 484.15,70.00 C484.60,71.33 485.15,72.67 485.65,74.00 C486.15,75.33 486.67,76.67 487.15,78.00 C487.63,79.33 488.07,80.67 488.55,82.00 C489.03,83.33 489.55,84.67 490.05,86.00 C490.55,87.33 491.10,88.83 491.55,90.00 C492.00,91.17 492.47,92.00 492.75,93.00 C493.03,94.00 493.42,94.83 493.25,96.00 C493.08,97.17 492.48,98.67 491.75,100.00 C491.02,101.33 489.75,102.67 488.85,104.00 C487.95,105.33 487.08,106.67 486.35,108.00 C485.62,109.33 485.02,110.67 484.45,112.00 C483.88,113.33 483.55,114.62 482.95,116.00 C482.35,117.38 481.20,119.58 480.85,120.30 L479.65,120.30 C479.30,119.58 478.15,117.38 477.55,116.00 C476.95,114.62 476.62,113.33 476.05,112.00 C475.48,110.67 474.88,109.33 474.15,108.00 C473.42,106.67 472.55,105.33 471.65,104.00 C470.75,102.67 469.48,101.33 468.75,100.00 C468.02,98.67 467.42,97.17 467.25,96.00 C467.08,94.83 467.47,94.00 467.75,93.00 C468.03,92.00 468.50,91.17 468.95,90.00 C469.40,88.83 469.95,87.33 470.45,86.00 C470.95,84.67 471.47,83.33 471.95,82.00 C472.43,80.67 472.87,79.33 473.35,78.00 C473.83,76.67 474.35,75.33 474.85,74.00 C475.35,72.67 475.90,71.33 476.35,70.00 C476.80,68.67 477.03,67.27 477.55,66.00 C478.07,64.73 479.13,63.00 479.45,62.40 Z" fill="#f5ac9c" stroke="#ef948c" stroke-width="0.6"/>
<line x1="480.25" y1="62.40" x2="480.25" y2="120.00" stroke="#de1826" stroke-width="1.0"/>
<path d="M479.05,63.00 L481.45,63.00 L482.75,66.00 L482.75,116.50 L481.45,119.50 L479.05,119.50 L477.75,116.50 L477.75,66.00 Z" fill="#e5343e"/>
<rect x="478.05" y="76.68" width="4.4" height="30.33" fill="#de1826"/>
<circle cx="481.09" cy="94.37" r="1.3" fill="none" stroke="#b01018" stroke-width="0.4" stroke-opacity="0.45"/>
<circle cx="480.90" cy="98.58" r="1.3" fill="none" stroke="#b01018" stroke-width="0.4" stroke-opacity="0.45"/>
<circle cx="480.83" cy="95.62" r="1.3" fill="none" stroke="#b01018" stroke-width="0.4" stroke-opacity="0.45"/>
<circle cx="480.79" cy="87.99" r="1.3" fill="none" stroke="#b01018" stroke-width="0.4" stroke-opacity="0.45"/>
<circle cx="479.15" cy="100.50" r="1.3" fill="none" stroke="#b01018" stroke-width="0.4" stroke-opacity="0.45"/>
<circle cx="480.51" cy="64.91" r="1.3" fill="none" stroke="#b01018" stroke-width="0.4" stroke-opacity="0.45"/>
<circle cx="481.12" cy="87.42" r="1.3" fill="none" stroke="#b01018" stroke-width="0.4" stroke-opacity="0.45"/>
<circle cx="480.59" cy="70.46" r="1.3" fill="none" stroke="#b01018" stroke-width="0.4" stroke-opacity="0.45"/>
<circle cx="479.93" cy="64.26" r="1.3" fill="none" stroke="#b01018" stroke-width="0.4" stroke-opacity="0.45"/>
<circle cx="480.52" cy="96.28" r="1.3" fill="none" stroke="#b01018" stroke-width="0.4" stroke-opacity="0.45"/>
<circle cx="481.21" cy="89.83" r="1.3" fill="none" stroke="#b01018" stroke-width="0.4" stroke-opacity="0.45"/>
<circle cx="479.36" cy="76.76" r="1.3" fill="none" stroke="#b01018" stroke-width="0.4" stroke-opacity="0.45"/>
<circle cx="480.87" cy="99.06" r="1.3" fill="none" stroke="#b01018" stroke-width="0.4" stroke-opacity="0.45"/>
<circle cx="479.18" cy="85.71" r="1.3" fill="none" stroke="#b01018" stroke-width="0.4" stroke-opacity="0.45"/>
<circle cx="479.92" cy="99.44" r="1.3" fill="none" stroke="#b01018" stroke-width="0.4" stroke-opacity="0.45"/>
<circle cx="481.21" cy="99.48" r="1.3" fill="none" stroke="#b01018" stroke-width="0.4" stroke-opacity="0.45"/>
<circle cx="481.14" cy="104.44" r="1.3" fill="none" stroke="#b01018" stroke-width="0.4" stroke-opacity="0.45"/>
<circle cx="479.28" cy="85.94" r="1.3" fill="none" stroke="#b01018" stroke-width="0.4" stroke-opacity="0.45"/>
<circle cx="480.36" cy="107.01" r="1.3" fill="none" stroke="#b01018" stroke-width="0.4" stroke-opacity="0.45"/>
<circle cx="479.59" cy="116.16" r="1.3" fill="none" stroke="#b01018" stroke-width="0.4" stroke-opacity="0.45"/>
<circle cx="480.56" cy="97.36" r="1.3" fill="none" stroke="#b01018" stroke-width="0.4" stroke-opacity="0.45"/>
<circle cx="479.83" cy="108.96" r="1.3" fill="none" stroke="#b01018" stroke-width="0.4" stroke-opacity="0.45"/>
<circle cx="481.11" cy="79.97" r="1.3" fill="none" stroke="#b01018" stroke-width="0.4" stroke-opacity="0.45"/>
<circle cx="480.78" cy="105.10" r="1.3" fill="none" stroke="#b01018" stroke-width="0.4" stroke-opacity="0.45"/>
<circle cx="479.38" cy="88.57" r="1.3" fill="none" stroke="#b01018" stroke-width="0.4" stroke-opacity="0.45"/>
<circle cx="479.89" cy="76.12" r="1.3" fill="none" stroke="#b01018" stroke-width="0.4" stroke-opacity="0.45"/>
<circle cx="480.30" cy="87.64" r="1.3" fill="none" stroke="#b01018" stroke-width="0.4" stroke-opacity="0.45"/>
<circle cx="479.72" cy="112.72" r="1.3" fill="none" stroke="#b01018" stroke-width="0.4" stroke-opacity="0.45"/>
<circle cx="481.15" cy="81.56" r="1.3" fill="none" stroke="#b01018" stroke-width="0.4" stroke-opacity="0.45"/>
<circle cx="480.61" cy="98.63" r="1.3" fill="none" stroke="#b01018" stroke-width="0.4" stroke-opacity="0.45"/>
<circle cx="479.83" cy="103.94" r="1.3" fill="none" stroke="#b01018" stroke-width="0.4" stroke-opacity="0.45"/>
<circle cx="479.38" cy="71.17" r="1.3" fill="none" stroke="#b01018" stroke-width="0.4" stroke-opacity="0.45"/>
<circle cx="479.24" cy="71.01" r="1.3" fill="none" stroke="#b01018" stroke-width="0.4" stroke-opacity="0.45"/>
<circle cx="480.68" cy="102.13" r="1.3" fill="none" stroke="#b01018" stroke-width="0.4" stroke-opacity="0.45"/>
<circle cx="480.45" cy="104.63" r="1.3" fill="none" stroke="#b01018" stroke-width="0.4" stroke-opacity="0.45"/>
<circle cx="479.40" cy="69.05" r="1.3" fill="none" stroke="#b01018" stroke-width="0.4" stroke-opacity="0.45"/>
<circle cx="479.37" cy="79.24" r="1.3" fill="none" stroke="#b01018" stroke-width="0.4" stroke-opacity="0.45"/>
<circle cx="479.85" cy="105.79" r="1.3" fill="none" stroke="#b01018" stroke-width="0.4" stroke-opacity="0.45"/>
<circle cx="479.71" cy="86.94" r="1.3" fill="none" stroke="#b01018" stroke-width="0.4" stroke-opacity="0.45"/>
<circle cx="481.27" cy="83.79" r="1.3" fill="none" stroke="#b01018" stroke-width="0.4" stroke-opacity="0.45"/>
<circle cx="480.51" cy="91.46" r="1.3" fill="none" stroke="#b01018" stroke-width="0.4" stroke-opacity="0.45"/>
<circle cx="479.91" cy="87.66" r="1.3" fill="none" stroke="#b01018" stroke-width="0.4" stroke-opacity="0.45"/>
<circle cx="479.63" cy="102.81" r="1.3" fill="none" stroke="#b01018" stroke-width="0.4" stroke-opacity="0.45"/>
<circle cx="480.95" cy="111.72" r="1.3" fill="none" stroke="#b01018" stroke-width="0.4" stroke-opacity="0.45"/>
<circle cx="479.59" cy="72.63" r="1.3" fill="none" stroke="#b01018" stroke-width="0.4" stroke-opacity="0.45"/>
<circle cx="479.56" cy="90.77" r="1.3" fill="none" stroke="#b01018" stroke-width="0.4" stroke-opacity="0.45"/>
<circle cx="480.98" cy="90.94" r="1.3" fill="none" stroke="#b01018" stroke-width="0.4" stroke-opacity="0.45"/>
<circle cx="480.69" cy="79.03" r="1.3" fill="none" stroke="#b01018" stroke-width="0.4" stroke-opacity="0.45"/>
<circle cx="480.55" cy="91.15" r="1.3" fill="none" stroke="#b01018" stroke-width="0.4" stroke-opacity="0.45"/>
<circle cx="480.03" cy="98.48" r="1.3" fill="none" stroke="#b01018" stroke-width="0.4" stroke-opacity="0.45"/>
<circle cx="481.09" cy="91.32" r="1.3" fill="none" stroke="#b01018" stroke-width="0.4" stroke-opacity="0.45"/>
<circle cx="480.32" cy="76.20" r="1.3" fill="none" stroke="#b01018" stroke-width="0.4" stroke-opacity="0.45"/>
<circle cx="479.87" cy="99.52" r="1.3" fill="none" stroke="#b01018" stroke-width="0.4" stroke-opacity="0.45"/>
<circle cx="479.52" cy="100.41" r="1.3" fill="none" stroke="#b01018" stroke-width="0.4" stroke-opacity="0.45"/>
<circle cx="480.42" cy="87.79" r="1.3" fill="none" stroke="#b01018" stroke-width="0.4" stroke-opacity="0.45"/>
<circle cx="479.57" cy="113.01" r="1.3" fill="none" stroke="#b01018" stroke-width="0.4" stroke-opacity="0.45"/>
<circle cx="479.49" cy="110.67" r="1.3" fill="none" stroke="#b01018" stroke-width="0.4" stroke-opacity="0.45"/>
<circle cx="480.30" cy="76.99" r="1.3" fill="none" stroke="#b01018" stroke-width="0.4" stroke-opacity="0.45"/>
<circle cx="479.57" cy="72.09" r="1.3" fill="none" stroke="#b01018" stroke-width="0.4" stroke-opacity="0.45"/>
<circle cx="479.58" cy="104.43" r="1.3" fill="none" stroke="#b01018" stroke-width="0.4" stroke-opacity="0.45"/>
<circle cx="479.60" cy="99.05" r="1.3" fill="none" stroke="#b01018" stroke-width="0.4" stroke-opacity="0.45"/>
<circle cx="480.03" cy="84.94" r="1.3" fill="none" stroke="#b01018" stroke-width="0.4" stroke-opacity="0.45"/>
<circle cx="480.17" cy="91.28" r="1.3" fill="none" stroke="#b01018" stroke-width="0.4" stroke-opacity="0.45"/>
<circle cx="481.15" cy="85.87" r="1.3" fill="none" stroke="#b01018" stroke-width="0.4" stroke-opacity="0.45"/>
<circle cx="480.80" cy="87.30" r="1.3" fill="none" stroke="#b01018" stroke-width="0.4" stroke-opacity="0.45"/>
<rect x="477.15" y="92.80" width="6.2" height="4.60" fill="#fce8e4"/>
<circle cx="480.25" cy="62.40" r="1.5" fill="#fff" fill-opacity="0.8" stroke="#de1826" stroke-width="0.7"/>
<circle cx="480.25" cy="120.00" r="1.5" fill="#fff" fill-opacity="0.8" stroke="#de1826" stroke-width="0.7"/>
<rect x="314.5" y="23" width="198.89999999999998" height="129.3" fill="none" stroke="#1c1c1c" stroke-width="1.3"/>
<line x1="311.9" y1="152.30" x2="314.5" y2="152.30" stroke="#1c1c1c" stroke-width="0.9"/>
<text x="309.20" y="154.50" text-anchor="end" font-size="7.5">0</text>
<line x1="311.9" y1="137.93" x2="314.5" y2="137.93" stroke="#1c1c1c" stroke-width="0.9"/>
<text x="309.20" y="140.13" text-anchor="end" font-size="7.5">20</text>
<line x1="311.9" y1="123.57" x2="314.5" y2="123.57" stroke="#1c1c1c" stroke-width="0.9"/>
<text x="309.20" y="125.77" text-anchor="end" font-size="7.5">40</text>
<line x1="311.9" y1="109.20" x2="314.5" y2="109.20" stroke="#1c1c1c" stroke-width="0.9"/>
<text x="309.20" y="111.40" text-anchor="end" font-size="7.5">60</text>
<line x1="311.9" y1="94.83" x2="314.5" y2="94.83" stroke="#1c1c1c" stroke-width="0.9"/>
<text x="309.20" y="97.03" text-anchor="end" font-size="7.5">80</text>
<line x1="311.9" y1="80.47" x2="314.5" y2="80.47" stroke="#1c1c1c" stroke-width="0.9"/>
<text x="309.20" y="82.67" text-anchor="end" font-size="7.5">100</text>
<line x1="311.9" y1="66.10" x2="314.5" y2="66.10" stroke="#1c1c1c" stroke-width="0.9"/>
<text x="309.20" y="68.30" text-anchor="end" font-size="7.5">120</text>
<line x1="311.9" y1="51.73" x2="314.5" y2="51.73" stroke="#1c1c1c" stroke-width="0.9"/>
<text x="309.20" y="53.93" text-anchor="end" font-size="7.5">140</text>
<line x1="311.9" y1="37.37" x2="314.5" y2="37.37" stroke="#1c1c1c" stroke-width="0.9"/>
<text x="309.20" y="39.57" text-anchor="end" font-size="7.5">160</text>
<line x1="311.9" y1="23.00" x2="314.5" y2="23.00" stroke="#1c1c1c" stroke-width="0.9"/>
<text x="309.20" y="25.20" text-anchor="end" font-size="7.5">180</text>
<line x1="347.65" y1="152.3" x2="347.65" y2="155.10000000000002" stroke="#1c1c1c" stroke-width="0.9"/>
<text x="347.65" y="163.10000000000002" text-anchor="middle" font-size="7.5">0</text>
<line x1="413.95" y1="152.3" x2="413.95" y2="155.10000000000002" stroke="#1c1c1c" stroke-width="0.9"/>
<text x="413.95" y="163.10000000000002" text-anchor="middle" font-size="7.5">1</text>
<line x1="480.25" y1="152.3" x2="480.25" y2="155.10000000000002" stroke="#1c1c1c" stroke-width="0.9"/>
<text x="480.25" y="163.10000000000002" text-anchor="middle" font-size="7.5">2</text>
<text x="349.85" y="147.9" text-anchor="middle" font-size="7.7">n = 22</text>
<text x="416.15" y="147.9" text-anchor="middle" font-size="7.7">n = 56</text>
<text x="482.45" y="147.9" text-anchor="middle" font-size="7.7">n = 65</text>
<text transform="translate(413.95,174.3) scale(0.72,1)" text-anchor="middle" font-size="8.7" class="tt">Venous hyperintensity score</text>
<text x="263.6" y="15.6" font-size="10.6" font-weight="bold" class="pl">B</text>
<text transform="translate(279.6,87.65) rotate(-90) scale(0.72,1)" text-anchor="middle" font-size="8.7" class="ty">Gray matter CBF mean</text>
<text transform="translate(289.6,87.65) rotate(-90) scale(0.745,1)" text-anchor="middle" font-size="8.7" class="ty">(ml blood/100g tissue/min)</text>
<path d="M82.28,247.50 C82.48,247.92 83.03,249.25 83.48,250.00 C83.93,250.75 84.35,251.33 84.98,252.00 C85.62,252.67 86.57,253.33 87.28,254.00 C88.00,254.67 88.65,255.33 89.28,256.00 C89.92,256.67 90.55,257.33 91.08,258.00 C91.62,258.67 92.00,259.17 92.48,260.00 C92.97,260.83 93.68,262.00 93.98,263.00 C94.28,264.00 94.33,264.83 94.28,266.00 C94.23,267.17 94.15,268.83 93.68,270.00 C93.22,271.17 92.35,272.08 91.48,273.00 C90.62,273.92 89.48,274.83 88.48,275.50 C87.48,276.17 86.52,276.65 85.48,277.00 C84.45,277.35 82.82,277.50 82.28,277.60 L80.68,277.60 C80.15,277.50 78.52,277.35 77.48,277.00 C76.45,276.65 75.48,276.17 74.48,275.50 C73.48,274.83 72.35,273.92 71.48,273.00 C70.62,272.08 69.75,271.17 69.28,270.00 C68.82,268.83 68.73,267.17 68.68,266.00 C68.63,264.83 68.68,264.00 68.98,263.00 C69.28,262.00 70.00,260.83 70.48,260.00 C70.97,259.17 71.35,258.67 71.88,258.00 C72.42,257.33 73.05,256.67 73.68,256.00 C74.32,255.33 74.97,254.67 75.68,254.00 C76.40,253.33 77.35,252.67 77.98,252.00 C78.62,251.33 79.03,250.75 79.48,250.00 C79.93,249.25 80.48,247.92 80.68,247.50 Z" fill="#a4a5dc" stroke="#8588cc" stroke-width="0.6"/>
<line x1="81.48" y1="247.60" x2="81.48" y2="276.20" stroke="#3235a0" stroke-width="1.0"/>
<path d="M80.28,251.50 L82.68,251.50 L83.98,254.50 L83.98,273.00 L82.68,276.00 L80.28,276.00 L78.98,273.00 L78.98,254.50 Z" fill="#6a6dc2"/>
<rect x="79.28" y="254.00" width="4.4" height="21.50" fill="#3235a0"/>
<circle cx="81.97" cy="261.82" r="1.3" fill="none" stroke="#1e2080" stroke-width="0.4" stroke-opacity="0.45"/>
<circle cx="81.88" cy="268.65" r="1.3" fill="none" stroke="#1e2080" stroke-width="0.4" stroke-opacity="0.45"/>
<circle cx="81.07" cy="267.22" r="1.3" fill="none" stroke="#1e2080" stroke-width="0.4" stroke-opacity="0.45"/>
<circle cx="81.31" cy="266.89" r="1.3" fill="none" stroke="#1e2080" stroke-width="0.4" stroke-opacity="0.45"/>
<circle cx="81.77" cy="270.67" r="1.3" fill="none" stroke="#1e2080" stroke-width="0.4" stroke-opacity="0.45"/>
<circle cx="81.38" cy="257.63" r="1.3" fill="none" stroke="#1e2080" stroke-width="0.4" stroke-opacity="0.45"/>
<circle cx="81.87" cy="266.73" r="1.3" fill="none" stroke="#1e2080" stroke-width="0.4" stroke-opacity="0.45"/>
<circle cx="81.82" cy="274.29" r="1.3" fill="none" stroke="#1e2080" stroke-width="0.4" stroke-opacity="0.45"/>
<circle cx="81.46" cy="270.57" r="1.3" fill="none" stroke="#1e2080" stroke-width="0.4" stroke-opacity="0.45"/>
<circle cx="81.58" cy="275.38" r="1.3" fill="none" stroke="#1e2080" stroke-width="0.4" stroke-opacity="0.45"/>
<circle cx="80.61" cy="274.54" r="1.3" fill="none" stroke="#1e2080" stroke-width="0.4" stroke-opacity="0.45"/>
<circle cx="81.96" cy="265.58" r="1.3" fill="none" stroke="#1e2080" stroke-width="0.4" stroke-opacity="0.45"/>
<circle cx="82.21" cy="264.05" r="1.3" fill="none" stroke="#1e2080" stroke-width="0.4" stroke-opacity="0.45"/>
<circle cx="82.47" cy="264.28" r="1.3" fill="none" stroke="#1e2080" stroke-width="0.4" stroke-opacity="0.45"/>
<circle cx="80.65" cy="261.12" r="1.3" fill="none" stroke="#1e2080" stroke-width="0.4" stroke-opacity="0.45"/>
<circle cx="80.51" cy="275.62" r="1.3" fill="none" stroke="#1e2080" stroke-width="0.4" stroke-opacity="0.45"/>
<circle cx="80.41" cy="258.22" r="1.3" fill="none" stroke="#1e2080" stroke-width="0.4" stroke-opacity="0.45"/>
<circle cx="81.92" cy="261.76" r="1.3" fill="none" stroke="#1e2080" stroke-width="0.4" stroke-opacity="0.45"/>
<circle cx="80.88" cy="260.13" r="1.3" fill="none" stroke="#1e2080" stroke-width="0.4" stroke-opacity="0.45"/>
<circle cx="81.54" cy="269.67" r="1.3" fill="none" stroke="#1e2080" stroke-width="0.4" stroke-opacity="0.45"/>
<circle cx="80.67" cy="261.10" r="1.3" fill="none" stroke="#1e2080" stroke-width="0.4" stroke-opacity="0.45"/>
<circle cx="81.78" cy="270.53" r="1.3" fill="none" stroke="#1e2080" stroke-width="0.4" stroke-opacity="0.45"/>
<rect x="78.38" y="264.20" width="6.2" height="4.50" fill="#e4e4f4"/>
<circle cx="81.48" cy="247.60" r="1.5" fill="#fff" fill-opacity="0.8" stroke="#3235a0" stroke-width="0.7"/>
<circle cx="81.48" cy="276.20" r="1.5" fill="#fff" fill-opacity="0.8" stroke="#3235a0" stroke-width="0.7"/>
<path d="M148.65,245.00 C148.93,245.50 149.85,246.83 150.35,248.00 C150.85,249.17 151.23,250.67 151.65,252.00 C152.07,253.33 152.42,254.67 152.85,256.00 C153.28,257.33 153.75,258.83 154.25,260.00 C154.75,261.17 155.28,262.00 155.85,263.00 C156.42,264.00 157.02,265.00 157.65,266.00 C158.28,267.00 159.15,268.00 159.65,269.00 C160.15,270.00 160.53,271.17 160.65,272.00 C160.77,272.83 160.82,273.17 160.35,274.00 C159.88,274.83 158.68,276.00 157.85,277.00 C157.02,278.00 156.18,278.83 155.35,280.00 C154.52,281.17 153.63,282.67 152.85,284.00 C152.07,285.33 151.35,286.83 150.65,288.00 C149.95,289.17 148.98,290.50 148.65,291.00 L147.05,291.00 C146.72,290.50 145.75,289.17 145.05,288.00 C144.35,286.83 143.63,285.33 142.85,284.00 C142.07,282.67 141.18,281.17 140.35,280.00 C139.52,278.83 138.68,278.00 137.85,277.00 C137.02,276.00 135.82,274.83 135.35,274.00 C134.88,273.17 134.93,272.83 135.05,272.00 C135.17,271.17 135.55,270.00 136.05,269.00 C136.55,268.00 137.42,267.00 138.05,266.00 C138.68,265.00 139.28,264.00 139.85,263.00 C140.42,262.00 140.95,261.17 141.45,260.00 C141.95,258.83 142.42,257.33 142.85,256.00 C143.28,254.67 143.63,253.33 144.05,252.00 C144.47,250.67 144.85,249.17 145.35,248.00 C145.85,246.83 146.77,245.50 147.05,245.00 Z" fill="#fccf9c" stroke="#f9be80" stroke-width="0.6"/>
<line x1="147.85" y1="245.00" x2="147.85" y2="290.10" stroke="#f39a1e" stroke-width="1.0"/>
<path d="M146.65,245.50 L149.05,245.50 L150.35,248.50 L150.35,286.50 L149.05,289.50 L146.65,289.50 L145.35,286.50 L145.35,248.50 Z" fill="#f6ab40"/>
<rect x="145.65" y="256.39" width="4.4" height="24.09" fill="#f39a1e"/>
<circle cx="147.25" cy="266.14" r="1.3" fill="none" stroke="#d07808" stroke-width="0.4" stroke-opacity="0.45"/>
<circle cx="148.55" cy="273.61" r="1.3" fill="none" stroke="#d07808" stroke-width="0.4" stroke-opacity="0.45"/>
<circle cx="147.96" cy="266.10" r="1.3" fill="none" stroke="#d07808" stroke-width="0.4" stroke-opacity="0.45"/>
<circle cx="147.31" cy="257.27" r="1.3" fill="none" stroke="#d07808" stroke-width="0.4" stroke-opacity="0.45"/>
<circle cx="146.76" cy="264.25" r="1.3" fill="none" stroke="#d07808" stroke-width="0.4" stroke-opacity="0.45"/>
<circle cx="147.29" cy="277.26" r="1.3" fill="none" stroke="#d07808" stroke-width="0.4" stroke-opacity="0.45"/>
<circle cx="148.20" cy="264.35" r="1.3" fill="none" stroke="#d07808" stroke-width="0.4" stroke-opacity="0.45"/>
<circle cx="148.57" cy="283.10" r="1.3" fill="none" stroke="#d07808" stroke-width="0.4" stroke-opacity="0.45"/>
<circle cx="146.78" cy="273.36" r="1.3" fill="none" stroke="#d07808" stroke-width="0.4" stroke-opacity="0.45"/>
<circle cx="147.06" cy="256.50" r="1.3" fill="none" stroke="#d07808" stroke-width="0.4" stroke-opacity="0.45"/>
<circle cx="148.74" cy="260.74" r="1.3" fill="none" stroke="#d07808" stroke-width="0.4" stroke-opacity="0.45"/>
<circle cx="148.71" cy="280.33" r="1.3" fill="none" stroke="#d07808" stroke-width="0.4" stroke-opacity="0.45"/>
<circle cx="148.22" cy="272.27" r="1.3" fill="none" stroke="#d07808" stroke-width="0.4" stroke-opacity="0.45"/>
<circle cx="148.27" cy="282.41" r="1.3" fill="none" stroke="#d07808" stroke-width="0.4" stroke-opacity="0.45"/>
<circle cx="147.71" cy="268.86" r="1.3" fill="none" stroke="#d07808" stroke-width="0.4" stroke-opacity="0.45"/>
<circle cx="147.06" cy="257.14" r="1.3" fill="none" stroke="#d07808" stroke-width="0.4" stroke-opacity="0.45"/>
<circle cx="147.78" cy="267.20" r="1.3" fill="none" stroke="#d07808" stroke-width="0.4" stroke-opacity="0.45"/>
<circle cx="148.65" cy="267.42" r="1.3" fill="none" stroke="#d07808" stroke-width="0.4" stroke-opacity="0.45"/>
<circle cx="148.21" cy="266.09" r="1.3" fill="none" stroke="#d07808" stroke-width="0.4" stroke-opacity="0.45"/>
<circle cx="147.67" cy="282.48" r="1.3" fill="none" stroke="#d07808" stroke-width="0.4" stroke-opacity="0.45"/>
<circle cx="148.15" cy="287.77" r="1.3" fill="none" stroke="#d07808" stroke-width="0.4" stroke-opacity="0.45"/>
<circle cx="148.09" cy="273.49" r="1.3" fill="none" stroke="#d07808" stroke-width="0.4" stroke-opacity="0.45"/>
<circle cx="148.72" cy="267.97" r="1.3" fill="none" stroke="#d07808" stroke-width="0.4" stroke-opacity="0.45"/>
<circle cx="148.65" cy="273.01" r="1.3" fill="none" stroke="#d07808" stroke-width="0.4" stroke-opacity="0.45"/>
<circle cx="147.91" cy="261.61" r="1.3" fill="none" stroke="#d07808" stroke-width="0.4" stroke-opacity="0.45"/>
<circle cx="147.71" cy="279.41" r="1.3" fill="none" stroke="#d07808" stroke-width="0.4" stroke-opacity="0.45"/>
<circle cx="148.57" cy="264.09" r="1.3" fill="none" stroke="#d07808" stroke-width="0.4" stroke-opacity="0.45"/>
<circle cx="147.35" cy="263.26" r="1.3" fill="none" stroke="#d07808" stroke-width="0.4" stroke-opacity="0.45"/>
<circle cx="147.48" cy="274.30" r="1.3" fill="none" stroke="#d07808" stroke-width="0.4" stroke-opacity="0.45"/>
<circle cx="148.04" cy="259.45" r="1.3" fill="none" stroke="#d07808" stroke-width="0.4" stroke-opacity="0.45"/>
<circle cx="146.84" cy="273.43" r="1.3" fill="none" stroke="#d07808" stroke-width="0.4" stroke-opacity="0.45"/>
<circle cx="147.41" cy="269.50" r="1.3" fill="none" stroke="#d07808" stroke-width="0.4" stroke-opacity="0.45"/>
<circle cx="148.75" cy="274.45" r="1.3" fill="none" stroke="#d07808" stroke-width="0.4" stroke-opacity="0.45"/>
<circle cx="148.13" cy="272.42" r="1.3" fill="none" stroke="#d07808" stroke-width="0.4" stroke-opacity="0.45"/>
<circle cx="148.25" cy="276.14" r="1.3" fill="none" stroke="#d07808" stroke-width="0.4" stroke-opacity="0.45"/>
<circle cx="146.83" cy="249.96" r="1.3" fill="none" stroke="#d07808" stroke-width="0.4" stroke-opacity="0.45"/>
<circle cx="148.56" cy="274.35" r="1.3" fill="none" stroke="#d07808" stroke-width="0.4" stroke-opacity="0.45"/>
<circle cx="147.32" cy="280.11" r="1.3" fill="none" stroke="#d07808" stroke-width="0.4" stroke-opacity="0.45"/>
<circle cx="147.45" cy="258.79" r="1.3" fill="none" stroke="#d07808" stroke-width="0.4" stroke-opacity="0.45"/>
<circle cx="148.80" cy="264.45" r="1.3" fill="none" stroke="#d07808" stroke-width="0.4" stroke-opacity="0.45"/>
<circle cx="148.53" cy="247.23" r="1.3" fill="none" stroke="#d07808" stroke-width="0.4" stroke-opacity="0.45"/>
<circle cx="147.73" cy="270.81" r="1.3" fill="none" stroke="#d07808" stroke-width="0.4" stroke-opacity="0.45"/>
<circle cx="148.91" cy="271.55" r="1.3" fill="none" stroke="#d07808" stroke-width="0.4" stroke-opacity="0.45"/>
<circle cx="146.97" cy="266.42" r="1.3" fill="none" stroke="#d07808" stroke-width="0.4" stroke-opacity="0.45"/>
<circle cx="147.08" cy="273.86" r="1.3" fill="none" stroke="#d07808" stroke-width="0.4" stroke-opacity="0.45"/>
<circle cx="148.25" cy="246.18" r="1.3" fill="none" stroke="#d07808" stroke-width="0.4" stroke-opacity="0.45"/>
<circle cx="148.33" cy="251.17" r="1.3" fill="none" stroke="#d07808" stroke-width="0.4" stroke-opacity="0.45"/>
<circle cx="148.45" cy="253.75" r="1.3" fill="none" stroke="#d07808" stroke-width="0.4" stroke-opacity="0.45"/>
<circle cx="148.13" cy="277.61" r="1.3" fill="none" stroke="#d07808" stroke-width="0.4" stroke-opacity="0.45"/>
<circle cx="148.80" cy="276.71" r="1.3" fill="none" stroke="#d07808" stroke-width="0.4" stroke-opacity="0.45"/>
<circle cx="146.78" cy="277.06" r="1.3" fill="none" stroke="#d07808" stroke-width="0.4" stroke-opacity="0.45"/>
<circle cx="146.93" cy="274.13" r="1.3" fill="none" stroke="#d07808" stroke-width="0.4" stroke-opacity="0.45"/>
<circle cx="147.56" cy="266.90" r="1.3" fill="none" stroke="#d07808" stroke-width="0.4" stroke-opacity="0.45"/>
<circle cx="148.24" cy="270.80" r="1.3" fill="none" stroke="#d07808" stroke-width="0.4" stroke-opacity="0.45"/>
<circle cx="147.60" cy="273.21" r="1.3" fill="none" stroke="#d07808" stroke-width="0.4" stroke-opacity="0.45"/>
<circle cx="147.39" cy="280.02" r="1.3" fill="none" stroke="#d07808" stroke-width="0.4" stroke-opacity="0.45"/>
<rect x="144.75" y="269.10" width="6.2" height="4.60" fill="#fcf0e0"/>
<circle cx="147.85" cy="245.00" r="1.5" fill="#fff" fill-opacity="0.8" stroke="#f39a1e" stroke-width="0.7"/>
<circle cx="147.85" cy="290.10" r="1.5" fill="#fff" fill-opacity="0.8" stroke="#f39a1e" stroke-width="0.7"/>
<path d="M215.02,252.80 C215.32,253.08 216.27,253.97 216.82,254.50 C217.37,255.03 217.83,255.42 218.32,256.00 C218.80,256.58 219.25,257.33 219.72,258.00 C220.18,258.67 220.47,259.00 221.12,260.00 C221.77,261.00 222.82,262.67 223.62,264.00 C224.42,265.33 225.37,266.83 225.92,268.00 C226.47,269.17 226.88,270.00 226.92,271.00 C226.95,272.00 226.43,273.17 226.12,274.00 C225.80,274.83 225.53,275.00 225.02,276.00 C224.50,277.00 223.68,278.67 223.02,280.00 C222.35,281.33 221.72,282.67 221.02,284.00 C220.32,285.33 219.55,286.67 218.82,288.00 C218.08,289.33 217.28,290.50 216.62,292.00 C215.95,293.50 215.12,296.17 214.82,297.00 L213.62,297.00 C213.32,296.17 212.48,293.50 211.82,292.00 C211.15,290.50 210.35,289.33 209.62,288.00 C208.88,286.67 208.12,285.33 207.42,284.00 C206.72,282.67 206.08,281.33 205.42,280.00 C204.75,278.67 203.93,277.00 203.42,276.00 C202.90,275.00 202.63,274.83 202.32,274.00 C202.00,273.17 201.48,272.00 201.52,271.00 C201.55,270.00 201.97,269.17 202.52,268.00 C203.07,266.83 204.02,265.33 204.82,264.00 C205.62,262.67 206.67,261.00 207.32,260.00 C207.97,259.00 208.25,258.67 208.72,258.00 C209.18,257.33 209.63,256.58 210.12,256.00 C210.60,255.42 211.07,255.03 211.62,254.50 C212.17,253.97 213.12,253.08 213.42,252.80 Z" fill="#f5ac9c" stroke="#ef948c" stroke-width="0.6"/>
<line x1="214.22" y1="253.20" x2="214.22" y2="303.30" stroke="#de1826" stroke-width="1.0"/>
<path d="M213.02,253.50 L215.42,253.50 L216.72,256.50 L216.72,293.00 L215.42,296.00 L213.02,296.00 L211.72,293.00 L211.72,256.50 Z" fill="#e5343e"/>
<rect x="212.02" y="261.19" width="4.4" height="22.76" fill="#de1826"/>
<circle cx="215.27" cy="267.61" r="1.3" fill="none" stroke="#b01018" stroke-width="0.4" stroke-opacity="0.45"/>
<circle cx="215.07" cy="266.62" r="1.3" fill="none" stroke="#b01018" stroke-width="0.4" stroke-opacity="0.45"/>
<circle cx="214.44" cy="269.51" r="1.3" fill="none" stroke="#b01018" stroke-width="0.4" stroke-opacity="0.45"/>
<circle cx="213.70" cy="265.54" r="1.3" fill="none" stroke="#b01018" stroke-width="0.4" stroke-opacity="0.45"/>
<circle cx="214.91" cy="271.46" r="1.3" fill="none" stroke="#b01018" stroke-width="0.4" stroke-opacity="0.45"/>
<circle cx="214.95" cy="291.22" r="1.3" fill="none" stroke="#b01018" stroke-width="0.4" stroke-opacity="0.45"/>
<circle cx="214.99" cy="277.81" r="1.3" fill="none" stroke="#b01018" stroke-width="0.4" stroke-opacity="0.45"/>
<circle cx="214.77" cy="287.39" r="1.3" fill="none" stroke="#b01018" stroke-width="0.4" stroke-opacity="0.45"/>
<circle cx="214.14" cy="279.29" r="1.3" fill="none" stroke="#b01018" stroke-width="0.4" stroke-opacity="0.45"/>
<circle cx="214.77" cy="262.28" r="1.3" fill="none" stroke="#b01018" stroke-width="0.4" stroke-opacity="0.45"/>
<circle cx="214.39" cy="286.32" r="1.3" fill="none" stroke="#b01018" stroke-width="0.4" stroke-opacity="0.45"/>
<circle cx="214.41" cy="275.68" r="1.3" fill="none" stroke="#b01018" stroke-width="0.4" stroke-opacity="0.45"/>
<circle cx="213.51" cy="261.54" r="1.3" fill="none" stroke="#b01018" stroke-width="0.4" stroke-opacity="0.45"/>
<circle cx="214.36" cy="283.30" r="1.3" fill="none" stroke="#b01018" stroke-width="0.4" stroke-opacity="0.45"/>
<circle cx="213.44" cy="270.61" r="1.3" fill="none" stroke="#b01018" stroke-width="0.4" stroke-opacity="0.45"/>
<circle cx="214.51" cy="269.40" r="1.3" fill="none" stroke="#b01018" stroke-width="0.4" stroke-opacity="0.45"/>
<circle cx="214.43" cy="286.96" r="1.3" fill="none" stroke="#b01018" stroke-width="0.4" stroke-opacity="0.45"/>
<circle cx="213.16" cy="268.16" r="1.3" fill="none" stroke="#b01018" stroke-width="0.4" stroke-opacity="0.45"/>
<circle cx="214.83" cy="277.61" r="1.3" fill="none" stroke="#b01018" stroke-width="0.4" stroke-opacity="0.45"/>
<circle cx="214.80" cy="271.60" r="1.3" fill="none" stroke="#b01018" stroke-width="0.4" stroke-opacity="0.45"/>
<circle cx="213.56" cy="264.29" r="1.3" fill="none" stroke="#b01018" stroke-width="0.4" stroke-opacity="0.45"/>
<circle cx="213.23" cy="261.18" r="1.3" fill="none" stroke="#b01018" stroke-width="0.4" stroke-opacity="0.45"/>
<circle cx="214.43" cy="292.17" r="1.3" fill="none" stroke="#b01018" stroke-width="0.4" stroke-opacity="0.45"/>
<circle cx="215.23" cy="270.39" r="1.3" fill="none" stroke="#b01018" stroke-width="0.4" stroke-opacity="0.45"/>
<circle cx="214.53" cy="264.43" r="1.3" fill="none" stroke="#b01018" stroke-width="0.4" stroke-opacity="0.45"/>
<circle cx="213.47" cy="270.21" r="1.3" fill="none" stroke="#b01018" stroke-width="0.4" stroke-opacity="0.45"/>
<circle cx="213.68" cy="262.92" r="1.3" fill="none" stroke="#b01018" stroke-width="0.4" stroke-opacity="0.45"/>
<circle cx="215.11" cy="268.46" r="1.3" fill="none" stroke="#b01018" stroke-width="0.4" stroke-opacity="0.45"/>
<circle cx="214.85" cy="289.08" r="1.3" fill="none" stroke="#b01018" stroke-width="0.4" stroke-opacity="0.45"/>
<circle cx="213.44" cy="295.38" r="1.3" fill="none" stroke="#b01018" stroke-width="0.4" stroke-opacity="0.45"/>
<circle cx="214.42" cy="282.27" r="1.3" fill="none" stroke="#b01018" stroke-width="0.4" stroke-opacity="0.45"/>
<circle cx="213.83" cy="285.71" r="1.3" fill="none" stroke="#b01018" stroke-width="0.4" stroke-opacity="0.45"/>
<circle cx="214.18" cy="264.42" r="1.3" fill="none" stroke="#b01018" stroke-width="0.4" stroke-opacity="0.45"/>
<circle cx="213.43" cy="260.66" r="1.3" fill="none" stroke="#b01018" stroke-width="0.4" stroke-opacity="0.45"/>
<circle cx="214.69" cy="282.30" r="1.3" fill="none" stroke="#b01018" stroke-width="0.4" stroke-opacity="0.45"/>
<circle cx="215.16" cy="261.79" r="1.3" fill="none" stroke="#b01018" stroke-width="0.4" stroke-opacity="0.45"/>
<circle cx="213.33" cy="259.44" r="1.3" fill="none" stroke="#b01018" stroke-width="0.4" stroke-opacity="0.45"/>
<circle cx="213.86" cy="280.21" r="1.3" fill="none" stroke="#b01018" stroke-width="0.4" stroke-opacity="0.45"/>
<circle cx="213.60" cy="280.20" r="1.3" fill="none" stroke="#b01018" stroke-width="0.4" stroke-opacity="0.45"/>
<circle cx="215.03" cy="277.02" r="1.3" fill="none" stroke="#b01018" stroke-width="0.4" stroke-opacity="0.45"/>
<circle cx="213.46" cy="264.82" r="1.3" fill="none" stroke="#b01018" stroke-width="0.4" stroke-opacity="0.45"/>
<circle cx="214.20" cy="267.72" r="1.3" fill="none" stroke="#b01018" stroke-width="0.4" stroke-opacity="0.45"/>
<circle cx="214.17" cy="281.90" r="1.3" fill="none" stroke="#b01018" stroke-width="0.4" stroke-opacity="0.45"/>
<circle cx="213.56" cy="265.66" r="1.3" fill="none" stroke="#b01018" stroke-width="0.4" stroke-opacity="0.45"/>
<circle cx="215.09" cy="257.65" r="1.3" fill="none" stroke="#b01018" stroke-width="0.4" stroke-opacity="0.45"/>
<circle cx="213.12" cy="267.99" r="1.3" fill="none" stroke="#b01018" stroke-width="0.4" stroke-opacity="0.45"/>
<circle cx="215.12" cy="261.40" r="1.3" fill="none" stroke="#b01018" stroke-width="0.4" stroke-opacity="0.45"/>
<circle cx="213.42" cy="262.78" r="1.3" fill="none" stroke="#b01018" stroke-width="0.4" stroke-opacity="0.45"/>
<circle cx="213.29" cy="283.74" r="1.3" fill="none" stroke="#b01018" stroke-width="0.4" stroke-opacity="0.45"/>
<circle cx="213.57" cy="274.56" r="1.3" fill="none" stroke="#b01018" stroke-width="0.4" stroke-opacity="0.45"/>
<circle cx="214.73" cy="262.10" r="1.3" fill="none" stroke="#b01018" stroke-width="0.4" stroke-opacity="0.45"/>
<circle cx="213.24" cy="270.85" r="1.3" fill="none" stroke="#b01018" stroke-width="0.4" stroke-opacity="0.45"/>
<circle cx="214.97" cy="287.95" r="1.3" fill="none" stroke="#b01018" stroke-width="0.4" stroke-opacity="0.45"/>
<circle cx="213.70" cy="273.76" r="1.3" fill="none" stroke="#b01018" stroke-width="0.4" stroke-opacity="0.45"/>
<circle cx="213.93" cy="269.10" r="1.3" fill="none" stroke="#b01018" stroke-width="0.4" stroke-opacity="0.45"/>
<circle cx="214.26" cy="278.78" r="1.3" fill="none" stroke="#b01018" stroke-width="0.4" stroke-opacity="0.45"/>
<circle cx="213.38" cy="272.45" r="1.3" fill="none" stroke="#b01018" stroke-width="0.4" stroke-opacity="0.45"/>
<circle cx="214.77" cy="283.73" r="1.3" fill="none" stroke="#b01018" stroke-width="0.4" stroke-opacity="0.45"/>
<circle cx="214.30" cy="275.32" r="1.3" fill="none" stroke="#b01018" stroke-width="0.4" stroke-opacity="0.45"/>
<circle cx="213.34" cy="263.01" r="1.3" fill="none" stroke="#b01018" stroke-width="0.4" stroke-opacity="0.45"/>
<circle cx="214.65" cy="254.78" r="1.3" fill="none" stroke="#b01018" stroke-width="0.4" stroke-opacity="0.45"/>
<circle cx="214.44" cy="261.79" r="1.3" fill="none" stroke="#b01018" stroke-width="0.4" stroke-opacity="0.45"/>
<circle cx="214.66" cy="278.00" r="1.3" fill="none" stroke="#b01018" stroke-width="0.4" stroke-opacity="0.45"/>
<circle cx="213.39" cy="283.98" r="1.3" fill="none" stroke="#b01018" stroke-width="0.4" stroke-opacity="0.45"/>
<circle cx="213.73" cy="274.48" r="1.3" fill="none" stroke="#b01018" stroke-width="0.4" stroke-opacity="0.45"/>
<rect x="211.12" y="270.00" width="6.2" height="4.70" fill="#fce8e4"/>
<circle cx="214.22" cy="253.20" r="1.5" fill="#fff" fill-opacity="0.8" stroke="#de1826" stroke-width="0.7"/>
<circle cx="214.22" cy="303.30" r="1.5" fill="#fff" fill-opacity="0.8" stroke="#de1826" stroke-width="0.7"/>
<rect x="48.3" y="207.9" width="199.10000000000002" height="129.4" fill="none" stroke="#1c1c1c" stroke-width="1.3"/>
<line x1="45.699999999999996" y1="337.30" x2="48.3" y2="337.30" stroke="#1c1c1c" stroke-width="0.9"/>
<text transform="translate(41.60,339.50) scale(0.9,1)" text-anchor="end" font-size="7.5">0</text>
<line x1="45.699999999999996" y1="318.81" x2="48.3" y2="318.81" stroke="#1c1c1c" stroke-width="0.9"/>
<text transform="translate(41.60,321.01) scale(0.9,1)" text-anchor="end" font-size="7.5">10</text>
<line x1="45.699999999999996" y1="300.33" x2="48.3" y2="300.33" stroke="#1c1c1c" stroke-width="0.9"/>
<text transform="translate(41.60,302.53) scale(0.9,1)" text-anchor="end" font-size="7.5">20</text>
<line x1="45.699999999999996" y1="281.84" x2="48.3" y2="281.84" stroke="#1c1c1c" stroke-width="0.9"/>
<text transform="translate(41.60,284.04) scale(0.9,1)" text-anchor="end" font-size="7.5">30</text>
<line x1="45.699999999999996" y1="263.36" x2="48.3" y2="263.36" stroke="#1c1c1c" stroke-width="0.9"/>
<text transform="translate(41.60,265.56) scale(0.9,1)" text-anchor="end" font-size="7.5">40</text>
<line x1="45.699999999999996" y1="244.87" x2="48.3" y2="244.87" stroke="#1c1c1c" stroke-width="0.9"/>
<text transform="translate(41.60,247.07) scale(0.9,1)" text-anchor="end" font-size="7.5">50</text>
<line x1="45.699999999999996" y1="226.39" x2="48.3" y2="226.39" stroke="#1c1c1c" stroke-width="0.9"/>
<text transform="translate(41.60,228.59) scale(0.9,1)" text-anchor="end" font-size="7.5">60</text>
<line x1="45.699999999999996" y1="207.90" x2="48.3" y2="207.90" stroke="#1c1c1c" stroke-width="0.9"/>
<text transform="translate(41.60,210.10) scale(0.9,1)" text-anchor="end" font-size="7.5">70</text>
<line x1="81.48" y1="337.3" x2="81.48" y2="340.1" stroke="#1c1c1c" stroke-width="0.9"/>
<text x="81.48" y="348.1" text-anchor="middle" font-size="7.5">0</text>
<line x1="147.85" y1="337.3" x2="147.85" y2="340.1" stroke="#1c1c1c" stroke-width="0.9"/>
<text x="147.85" y="348.1" text-anchor="middle" font-size="7.5">1</text>
<line x1="214.22" y1="337.3" x2="214.22" y2="340.1" stroke="#1c1c1c" stroke-width="0.9"/>
<text x="214.22" y="348.1" text-anchor="middle" font-size="7.5">2</text>
<text x="83.68" y="332.90000000000003" text-anchor="middle" font-size="7.7">n = 22</text>
<text x="150.05" y="332.90000000000003" text-anchor="middle" font-size="7.7">n = 56</text>
<text x="216.42" y="332.90000000000003" text-anchor="middle" font-size="7.7">n = 65</text>
<text transform="translate(147.85,359.3) scale(0.72,1)" text-anchor="middle" font-size="8.7" class="tt">Venous hyperintensity score</text>
<text x="6.3" y="200.6" font-size="10.6" font-weight="bold" class="pl">C</text>
<path d="M81.48,232.20 V228.60 H214.22 V232.20" fill="none" stroke="#333" stroke-width="1"/>
<text x="147.85" y="227.00" text-anchor="middle" font-size="7.5">*: <tspan font-style="italic">P</tspan> = .011</text>
<path d="M147.85,241.40 V237.80 H214.22 V241.40" fill="none" stroke="#333" stroke-width="1"/>
<text x="181.03" y="236.20" text-anchor="middle" font-size="7.5">***: <tspan font-style="italic">P</tspan> &lt; .001</text>
<text transform="translate(28.0,272.60) rotate(-90) scale(0.72,1)" text-anchor="middle" font-size="8.7" class="ty">OEF (%)</text>
<path d="M356.65,256.30 C356.87,256.42 357.57,256.55 357.95,257.00 C358.33,257.45 358.67,258.17 358.95,259.00 C359.23,259.83 359.55,260.50 359.65,262.00 C359.75,263.50 359.68,266.00 359.55,268.00 C359.42,270.00 358.87,272.33 358.85,274.00 C358.83,275.67 359.22,276.67 359.45,278.00 C359.68,279.33 360.12,280.83 360.25,282.00 C360.38,283.17 360.53,284.00 360.25,285.00 C359.97,286.00 359.32,286.83 358.55,288.00 C357.78,289.17 356.52,290.67 355.65,292.00 C354.78,293.33 354.13,294.67 353.35,296.00 C352.57,297.33 351.73,298.67 350.95,300.00 C350.17,301.33 349.12,303.17 348.65,304.00 C348.18,304.83 348.23,304.83 348.15,305.00 L347.15,305.00 C347.07,304.83 347.12,304.83 346.65,304.00 C346.18,303.17 345.13,301.33 344.35,300.00 C343.57,298.67 342.73,297.33 341.95,296.00 C341.17,294.67 340.52,293.33 339.65,292.00 C338.78,290.67 337.52,289.17 336.75,288.00 C335.98,286.83 335.33,286.00 335.05,285.00 C334.77,284.00 334.92,283.17 335.05,282.00 C335.18,280.83 335.62,279.33 335.85,278.00 C336.08,276.67 336.47,275.67 336.45,274.00 C336.43,272.33 335.88,270.00 335.75,268.00 C335.62,266.00 335.55,263.50 335.65,262.00 C335.75,260.50 336.07,259.83 336.35,259.00 C336.63,258.17 336.97,257.45 337.35,257.00 C337.73,256.55 338.43,256.42 338.65,256.30 Z" fill="#a4a5dc" stroke="#8588cc" stroke-width="0.6"/>
<line x1="347.65" y1="256.50" x2="347.65" y2="304.10" stroke="#3235a0" stroke-width="1.0"/>
<path d="M346.45,256.50 L348.85,256.50 L350.15,259.50 L350.15,287.00 L348.85,290.00 L346.45,290.00 L345.15,287.00 L345.15,259.50 Z" fill="#6a6dc2"/>
<rect x="345.45" y="258.00" width="4.4" height="31.00" fill="#3235a0"/>
<circle cx="346.85" cy="260.59" r="1.3" fill="none" stroke="#1e2080" stroke-width="0.4" stroke-opacity="0.45"/>
<circle cx="346.87" cy="276.33" r="1.3" fill="none" stroke="#1e2080" stroke-width="0.4" stroke-opacity="0.45"/>
<circle cx="346.91" cy="275.69" r="1.3" fill="none" stroke="#1e2080" stroke-width="0.4" stroke-opacity="0.45"/>
<circle cx="347.41" cy="284.17" r="1.3" fill="none" stroke="#1e2080" stroke-width="0.4" stroke-opacity="0.45"/>
<circle cx="347.71" cy="270.59" r="1.3" fill="none" stroke="#1e2080" stroke-width="0.4" stroke-opacity="0.45"/>
<circle cx="347.08" cy="282.53" r="1.3" fill="none" stroke="#1e2080" stroke-width="0.4" stroke-opacity="0.45"/>
<circle cx="348.71" cy="267.73" r="1.3" fill="none" stroke="#1e2080" stroke-width="0.4" stroke-opacity="0.45"/>
<circle cx="348.34" cy="283.45" r="1.3" fill="none" stroke="#1e2080" stroke-width="0.4" stroke-opacity="0.45"/>
<circle cx="347.69" cy="284.90" r="1.3" fill="none" stroke="#1e2080" stroke-width="0.4" stroke-opacity="0.45"/>
<circle cx="347.94" cy="264.85" r="1.3" fill="none" stroke="#1e2080" stroke-width="0.4" stroke-opacity="0.45"/>
<circle cx="346.70" cy="268.71" r="1.3" fill="none" stroke="#1e2080" stroke-width="0.4" stroke-opacity="0.45"/>
<circle cx="346.60" cy="271.01" r="1.3" fill="none" stroke="#1e2080" stroke-width="0.4" stroke-opacity="0.45"/>
<circle cx="347.94" cy="282.52" r="1.3" fill="none" stroke="#1e2080" stroke-width="0.4" stroke-opacity="0.45"/>
<circle cx="348.50" cy="283.61" r="1.3" fill="none" stroke="#1e2080" stroke-width="0.4" stroke-opacity="0.45"/>
<circle cx="347.13" cy="257.65" r="1.3" fill="none" stroke="#1e2080" stroke-width="0.4" stroke-opacity="0.45"/>
<circle cx="347.74" cy="279.23" r="1.3" fill="none" stroke="#1e2080" stroke-width="0.4" stroke-opacity="0.45"/>
<circle cx="347.10" cy="287.47" r="1.3" fill="none" stroke="#1e2080" stroke-width="0.4" stroke-opacity="0.45"/>
<circle cx="348.64" cy="273.93" r="1.3" fill="none" stroke="#1e2080" stroke-width="0.4" stroke-opacity="0.45"/>
<circle cx="347.97" cy="266.13" r="1.3" fill="none" stroke="#1e2080" stroke-width="0.4" stroke-opacity="0.45"/>
<circle cx="348.65" cy="260.53" r="1.3" fill="none" stroke="#1e2080" stroke-width="0.4" stroke-opacity="0.45"/>
<circle cx="347.58" cy="273.71" r="1.3" fill="none" stroke="#1e2080" stroke-width="0.4" stroke-opacity="0.45"/>
<circle cx="346.82" cy="274.38" r="1.3" fill="none" stroke="#1e2080" stroke-width="0.4" stroke-opacity="0.45"/>
<rect x="344.55" y="274.80" width="6.2" height="5.30" fill="#e4e4f4"/>
<circle cx="347.65" cy="256.50" r="1.5" fill="#fff" fill-opacity="0.8" stroke="#3235a0" stroke-width="0.7"/>
<circle cx="347.65" cy="304.10" r="1.5" fill="#fff" fill-opacity="0.8" stroke="#3235a0" stroke-width="0.7"/>
<path d="M414.55,241.00 C414.62,242.50 414.80,247.83 414.95,250.00 C415.10,252.17 415.17,253.00 415.45,254.00 C415.73,255.00 416.13,255.00 416.65,256.00 C417.17,257.00 417.87,258.67 418.55,260.00 C419.23,261.33 420.02,262.67 420.75,264.00 C421.48,265.33 422.25,266.67 422.95,268.00 C423.65,269.33 424.37,270.67 424.95,272.00 C425.53,273.33 426.17,274.67 426.45,276.00 C426.73,277.33 426.78,278.67 426.65,280.00 C426.52,281.33 426.13,282.67 425.65,284.00 C425.17,285.33 424.48,286.67 423.75,288.00 C423.02,289.33 422.07,290.67 421.25,292.00 C420.43,293.33 419.62,294.67 418.85,296.00 C418.08,297.33 417.37,298.75 416.65,300.00 C415.93,301.25 414.90,302.92 414.55,303.50 L413.35,303.50 C413.00,302.92 411.97,301.25 411.25,300.00 C410.53,298.75 409.82,297.33 409.05,296.00 C408.28,294.67 407.47,293.33 406.65,292.00 C405.83,290.67 404.88,289.33 404.15,288.00 C403.42,286.67 402.73,285.33 402.25,284.00 C401.77,282.67 401.38,281.33 401.25,280.00 C401.12,278.67 401.17,277.33 401.45,276.00 C401.73,274.67 402.37,273.33 402.95,272.00 C403.53,270.67 404.25,269.33 404.95,268.00 C405.65,266.67 406.42,265.33 407.15,264.00 C407.88,262.67 408.67,261.33 409.35,260.00 C410.03,258.67 410.73,257.00 411.25,256.00 C411.77,255.00 412.17,255.00 412.45,254.00 C412.73,253.00 412.80,252.17 412.95,250.00 C413.10,247.83 413.28,242.50 413.35,241.00 Z" fill="#fccf9c" stroke="#f9be80" stroke-width="0.6"/>
<line x1="413.95" y1="241.50" x2="413.95" y2="303.30" stroke="#f39a1e" stroke-width="1.0"/>
<path d="M412.75,255.00 L415.15,255.00 L416.45,258.00 L416.45,299.50 L415.15,302.50 L412.75,302.50 L411.45,299.50 L411.45,258.00 Z" fill="#f6ab40"/>
<rect x="411.75" y="265.53" width="4.4" height="25.59" fill="#f39a1e"/>
<circle cx="413.74" cy="261.24" r="1.3" fill="none" stroke="#d07808" stroke-width="0.4" stroke-opacity="0.45"/>
<circle cx="413.04" cy="268.69" r="1.3" fill="none" stroke="#d07808" stroke-width="0.4" stroke-opacity="0.45"/>
<circle cx="414.19" cy="280.95" r="1.3" fill="none" stroke="#d07808" stroke-width="0.4" stroke-opacity="0.45"/>
<circle cx="413.29" cy="282.08" r="1.3" fill="none" stroke="#d07808" stroke-width="0.4" stroke-opacity="0.45"/>
<circle cx="414.06" cy="288.74" r="1.3" fill="none" stroke="#d07808" stroke-width="0.4" stroke-opacity="0.45"/>
<circle cx="413.53" cy="284.11" r="1.3" fill="none" stroke="#d07808" stroke-width="0.4" stroke-opacity="0.45"/>
<circle cx="413.98" cy="266.51" r="1.3" fill="none" stroke="#d07808" stroke-width="0.4" stroke-opacity="0.45"/>
<circle cx="412.88" cy="273.20" r="1.3" fill="none" stroke="#d07808" stroke-width="0.4" stroke-opacity="0.45"/>
<circle cx="413.93" cy="266.33" r="1.3" fill="none" stroke="#d07808" stroke-width="0.4" stroke-opacity="0.45"/>
<circle cx="414.77" cy="262.53" r="1.3" fill="none" stroke="#d07808" stroke-width="0.4" stroke-opacity="0.45"/>
<circle cx="413.70" cy="275.90" r="1.3" fill="none" stroke="#d07808" stroke-width="0.4" stroke-opacity="0.45"/>
<circle cx="413.09" cy="275.90" r="1.3" fill="none" stroke="#d07808" stroke-width="0.4" stroke-opacity="0.45"/>
<circle cx="413.59" cy="290.09" r="1.3" fill="none" stroke="#d07808" stroke-width="0.4" stroke-opacity="0.45"/>
<circle cx="414.21" cy="271.74" r="1.3" fill="none" stroke="#d07808" stroke-width="0.4" stroke-opacity="0.45"/>
<circle cx="414.49" cy="279.59" r="1.3" fill="none" stroke="#d07808" stroke-width="0.4" stroke-opacity="0.45"/>
<circle cx="414.58" cy="291.09" r="1.3" fill="none" stroke="#d07808" stroke-width="0.4" stroke-opacity="0.45"/>
<circle cx="414.97" cy="282.83" r="1.3" fill="none" stroke="#d07808" stroke-width="0.4" stroke-opacity="0.45"/>
<circle cx="414.57" cy="282.17" r="1.3" fill="none" stroke="#d07808" stroke-width="0.4" stroke-opacity="0.45"/>
<circle cx="413.86" cy="273.03" r="1.3" fill="none" stroke="#d07808" stroke-width="0.4" stroke-opacity="0.45"/>
<circle cx="413.71" cy="289.35" r="1.3" fill="none" stroke="#d07808" stroke-width="0.4" stroke-opacity="0.45"/>
<circle cx="413.56" cy="281.38" r="1.3" fill="none" stroke="#d07808" stroke-width="0.4" stroke-opacity="0.45"/>
<circle cx="413.26" cy="278.73" r="1.3" fill="none" stroke="#d07808" stroke-width="0.4" stroke-opacity="0.45"/>
<circle cx="414.12" cy="269.44" r="1.3" fill="none" stroke="#d07808" stroke-width="0.4" stroke-opacity="0.45"/>
<circle cx="414.87" cy="282.63" r="1.3" fill="none" stroke="#d07808" stroke-width="0.4" stroke-opacity="0.45"/>
<circle cx="414.85" cy="264.70" r="1.3" fill="none" stroke="#d07808" stroke-width="0.4" stroke-opacity="0.45"/>
<circle cx="414.09" cy="255.51" r="1.3" fill="none" stroke="#d07808" stroke-width="0.4" stroke-opacity="0.45"/>
<circle cx="414.55" cy="278.62" r="1.3" fill="none" stroke="#d07808" stroke-width="0.4" stroke-opacity="0.45"/>
<circle cx="414.36" cy="279.58" r="1.3" fill="none" stroke="#d07808" stroke-width="0.4" stroke-opacity="0.45"/>
<circle cx="414.16" cy="273.50" r="1.3" fill="none" stroke="#d07808" stroke-width="0.4" stroke-opacity="0.45"/>
<circle cx="413.07" cy="287.13" r="1.3" fill="none" stroke="#d07808" stroke-width="0.4" stroke-opacity="0.45"/>
<circle cx="414.08" cy="272.78" r="1.3" fill="none" stroke="#d07808" stroke-width="0.4" stroke-opacity="0.45"/>
<circle cx="414.97" cy="282.27" r="1.3" fill="none" stroke="#d07808" stroke-width="0.4" stroke-opacity="0.45"/>
<circle cx="414.22" cy="278.12" r="1.3" fill="none" stroke="#d07808" stroke-width="0.4" stroke-opacity="0.45"/>
<circle cx="413.23" cy="280.18" r="1.3" fill="none" stroke="#d07808" stroke-width="0.4" stroke-opacity="0.45"/>
<circle cx="413.49" cy="274.99" r="1.3" fill="none" stroke="#d07808" stroke-width="0.4" stroke-opacity="0.45"/>
<circle cx="413.26" cy="279.30" r="1.3" fill="none" stroke="#d07808" stroke-width="0.4" stroke-opacity="0.45"/>
<circle cx="415.04" cy="283.65" r="1.3" fill="none" stroke="#d07808" stroke-width="0.4" stroke-opacity="0.45"/>
<circle cx="413.76" cy="285.23" r="1.3" fill="none" stroke="#d07808" stroke-width="0.4" stroke-opacity="0.45"/>
<circle cx="414.37" cy="292.41" r="1.3" fill="none" stroke="#d07808" stroke-width="0.4" stroke-opacity="0.45"/>
<circle cx="413.95" cy="286.74" r="1.3" fill="none" stroke="#d07808" stroke-width="0.4" stroke-opacity="0.45"/>
<circle cx="414.27" cy="281.28" r="1.3" fill="none" stroke="#d07808" stroke-width="0.4" stroke-opacity="0.45"/>
<circle cx="413.12" cy="282.29" r="1.3" fill="none" stroke="#d07808" stroke-width="0.4" stroke-opacity="0.45"/>
<circle cx="413.23" cy="260.07" r="1.3" fill="none" stroke="#d07808" stroke-width="0.4" stroke-opacity="0.45"/>
<circle cx="414.20" cy="279.82" r="1.3" fill="none" stroke="#d07808" stroke-width="0.4" stroke-opacity="0.45"/>
<circle cx="412.88" cy="293.31" r="1.3" fill="none" stroke="#d07808" stroke-width="0.4" stroke-opacity="0.45"/>
<circle cx="414.42" cy="291.60" r="1.3" fill="none" stroke="#d07808" stroke-width="0.4" stroke-opacity="0.45"/>
<circle cx="413.44" cy="271.81" r="1.3" fill="none" stroke="#d07808" stroke-width="0.4" stroke-opacity="0.45"/>
<circle cx="413.84" cy="282.66" r="1.3" fill="none" stroke="#d07808" stroke-width="0.4" stroke-opacity="0.45"/>
<circle cx="414.81" cy="273.32" r="1.3" fill="none" stroke="#d07808" stroke-width="0.4" stroke-opacity="0.45"/>
<circle cx="413.40" cy="275.88" r="1.3" fill="none" stroke="#d07808" stroke-width="0.4" stroke-opacity="0.45"/>
<circle cx="414.83" cy="295.60" r="1.3" fill="none" stroke="#d07808" stroke-width="0.4" stroke-opacity="0.45"/>
<circle cx="414.18" cy="293.76" r="1.3" fill="none" stroke="#d07808" stroke-width="0.4" stroke-opacity="0.45"/>
<circle cx="413.34" cy="273.52" r="1.3" fill="none" stroke="#d07808" stroke-width="0.4" stroke-opacity="0.45"/>
<circle cx="413.39" cy="278.01" r="1.3" fill="none" stroke="#d07808" stroke-width="0.4" stroke-opacity="0.45"/>
<circle cx="413.26" cy="263.24" r="1.3" fill="none" stroke="#d07808" stroke-width="0.4" stroke-opacity="0.45"/>
<circle cx="414.02" cy="281.67" r="1.3" fill="none" stroke="#d07808" stroke-width="0.4" stroke-opacity="0.45"/>
<rect x="410.85" y="277.80" width="6.2" height="4.60" fill="#fcf0e0"/>
<circle cx="413.95" cy="241.50" r="1.5" fill="#fff" fill-opacity="0.8" stroke="#f39a1e" stroke-width="0.7"/>
<circle cx="413.95" cy="303.30" r="1.5" fill="#fff" fill-opacity="0.8" stroke="#f39a1e" stroke-width="0.7"/>
<path d="M480.75,253.80 C480.83,255.17 480.97,260.13 481.25,262.00 C481.53,263.87 482.07,264.00 482.45,265.00 C482.83,266.00 483.03,266.83 483.55,268.00 C484.07,269.17 484.80,270.67 485.55,272.00 C486.30,273.33 487.27,274.67 488.05,276.00 C488.83,277.33 489.62,278.67 490.25,280.00 C490.88,281.33 491.45,282.67 491.85,284.00 C492.25,285.33 492.52,286.67 492.65,288.00 C492.78,289.33 492.75,290.83 492.65,292.00 C492.55,293.17 492.35,294.00 492.05,295.00 C491.75,296.00 491.43,296.83 490.85,298.00 C490.27,299.17 489.38,300.67 488.55,302.00 C487.72,303.33 486.75,304.83 485.85,306.00 C484.95,307.17 483.98,308.10 483.15,309.00 C482.32,309.90 481.23,311.00 480.85,311.40 L479.65,311.40 C479.27,311.00 478.18,309.90 477.35,309.00 C476.52,308.10 475.55,307.17 474.65,306.00 C473.75,304.83 472.78,303.33 471.95,302.00 C471.12,300.67 470.23,299.17 469.65,298.00 C469.07,296.83 468.75,296.00 468.45,295.00 C468.15,294.00 467.95,293.17 467.85,292.00 C467.75,290.83 467.72,289.33 467.85,288.00 C467.98,286.67 468.25,285.33 468.65,284.00 C469.05,282.67 469.62,281.33 470.25,280.00 C470.88,278.67 471.67,277.33 472.45,276.00 C473.23,274.67 474.20,273.33 474.95,272.00 C475.70,270.67 476.43,269.17 476.95,268.00 C477.47,266.83 477.67,266.00 478.05,265.00 C478.43,264.00 478.97,263.87 479.25,262.00 C479.53,260.13 479.67,255.17 479.75,253.80 Z" fill="#f5ac9c" stroke="#ef948c" stroke-width="0.6"/>
<line x1="480.25" y1="253.80" x2="480.25" y2="311.00" stroke="#de1826" stroke-width="1.0"/>
<path d="M479.05,265.50 L481.45,265.50 L482.75,268.50 L482.75,307.50 L481.45,310.50 L479.05,310.50 L477.75,307.50 L477.75,268.50 Z" fill="#e5343e"/>
<rect x="478.05" y="272.00" width="4.4" height="35.00" fill="#de1826"/>
<circle cx="479.29" cy="282.85" r="1.3" fill="none" stroke="#b01018" stroke-width="0.4" stroke-opacity="0.45"/>
<circle cx="479.57" cy="281.31" r="1.3" fill="none" stroke="#b01018" stroke-width="0.4" stroke-opacity="0.45"/>
<circle cx="479.23" cy="278.26" r="1.3" fill="none" stroke="#b01018" stroke-width="0.4" stroke-opacity="0.45"/>
<circle cx="479.49" cy="295.39" r="1.3" fill="none" stroke="#b01018" stroke-width="0.4" stroke-opacity="0.45"/>
<circle cx="479.74" cy="297.26" r="1.3" fill="none" stroke="#b01018" stroke-width="0.4" stroke-opacity="0.45"/>
<circle cx="480.13" cy="303.08" r="1.3" fill="none" stroke="#b01018" stroke-width="0.4" stroke-opacity="0.45"/>
<circle cx="480.74" cy="272.66" r="1.3" fill="none" stroke="#b01018" stroke-width="0.4" stroke-opacity="0.45"/>
<circle cx="480.15" cy="288.22" r="1.3" fill="none" stroke="#b01018" stroke-width="0.4" stroke-opacity="0.45"/>
<circle cx="479.69" cy="291.94" r="1.3" fill="none" stroke="#b01018" stroke-width="0.4" stroke-opacity="0.45"/>
<circle cx="481.07" cy="292.87" r="1.3" fill="none" stroke="#b01018" stroke-width="0.4" stroke-opacity="0.45"/>
<circle cx="480.85" cy="289.92" r="1.3" fill="none" stroke="#b01018" stroke-width="0.4" stroke-opacity="0.45"/>
<circle cx="480.40" cy="282.82" r="1.3" fill="none" stroke="#b01018" stroke-width="0.4" stroke-opacity="0.45"/>
<circle cx="479.34" cy="279.49" r="1.3" fill="none" stroke="#b01018" stroke-width="0.4" stroke-opacity="0.45"/>
<circle cx="479.39" cy="279.95" r="1.3" fill="none" stroke="#b01018" stroke-width="0.4" stroke-opacity="0.45"/>
<circle cx="480.25" cy="290.79" r="1.3" fill="none" stroke="#b01018" stroke-width="0.4" stroke-opacity="0.45"/>
<circle cx="479.83" cy="278.86" r="1.3" fill="none" stroke="#b01018" stroke-width="0.4" stroke-opacity="0.45"/>
<circle cx="480.73" cy="275.69" r="1.3" fill="none" stroke="#b01018" stroke-width="0.4" stroke-opacity="0.45"/>
<circle cx="481.15" cy="278.21" r="1.3" fill="none" stroke="#b01018" stroke-width="0.4" stroke-opacity="0.45"/>
<circle cx="479.76" cy="304.26" r="1.3" fill="none" stroke="#b01018" stroke-width="0.4" stroke-opacity="0.45"/>
<circle cx="480.06" cy="295.36" r="1.3" fill="none" stroke="#b01018" stroke-width="0.4" stroke-opacity="0.45"/>
<circle cx="479.70" cy="295.16" r="1.3" fill="none" stroke="#b01018" stroke-width="0.4" stroke-opacity="0.45"/>
<circle cx="480.53" cy="303.60" r="1.3" fill="none" stroke="#b01018" stroke-width="0.4" stroke-opacity="0.45"/>
<circle cx="481.16" cy="273.67" r="1.3" fill="none" stroke="#b01018" stroke-width="0.4" stroke-opacity="0.45"/>
<circle cx="479.24" cy="298.53" r="1.3" fill="none" stroke="#b01018" stroke-width="0.4" stroke-opacity="0.45"/>
<circle cx="479.59" cy="267.30" r="1.3" fill="none" stroke="#b01018" stroke-width="0.4" stroke-opacity="0.45"/>
<circle cx="479.24" cy="279.14" r="1.3" fill="none" stroke="#b01018" stroke-width="0.4" stroke-opacity="0.45"/>
<circle cx="479.55" cy="279.49" r="1.3" fill="none" stroke="#b01018" stroke-width="0.4" stroke-opacity="0.45"/>
<circle cx="480.73" cy="303.28" r="1.3" fill="none" stroke="#b01018" stroke-width="0.4" stroke-opacity="0.45"/>
<circle cx="480.66" cy="276.96" r="1.3" fill="none" stroke="#b01018" stroke-width="0.4" stroke-opacity="0.45"/>
<circle cx="480.99" cy="281.21" r="1.3" fill="none" stroke="#b01018" stroke-width="0.4" stroke-opacity="0.45"/>
<circle cx="479.24" cy="300.44" r="1.3" fill="none" stroke="#b01018" stroke-width="0.4" stroke-opacity="0.45"/>
<circle cx="480.68" cy="299.23" r="1.3" fill="none" stroke="#b01018" stroke-width="0.4" stroke-opacity="0.45"/>
<circle cx="480.97" cy="283.21" r="1.3" fill="none" stroke="#b01018" stroke-width="0.4" stroke-opacity="0.45"/>
<circle cx="481.23" cy="278.15" r="1.3" fill="none" stroke="#b01018" stroke-width="0.4" stroke-opacity="0.45"/>
<circle cx="480.98" cy="296.62" r="1.3" fill="none" stroke="#b01018" stroke-width="0.4" stroke-opacity="0.45"/>
<circle cx="479.27" cy="293.76" r="1.3" fill="none" stroke="#b01018" stroke-width="0.4" stroke-opacity="0.45"/>
<circle cx="480.28" cy="296.92" r="1.3" fill="none" stroke="#b01018" stroke-width="0.4" stroke-opacity="0.45"/>
<circle cx="480.83" cy="307.27" r="1.3" fill="none" stroke="#b01018" stroke-width="0.4" stroke-opacity="0.45"/>
<circle cx="480.35" cy="301.76" r="1.3" fill="none" stroke="#b01018" stroke-width="0.4" stroke-opacity="0.45"/>
<circle cx="479.28" cy="289.98" r="1.3" fill="none" stroke="#b01018" stroke-width="0.4" stroke-opacity="0.45"/>
<circle cx="479.59" cy="281.60" r="1.3" fill="none" stroke="#b01018" stroke-width="0.4" stroke-opacity="0.45"/>
<circle cx="480.71" cy="279.47" r="1.3" fill="none" stroke="#b01018" stroke-width="0.4" stroke-opacity="0.45"/>
<circle cx="479.68" cy="295.67" r="1.3" fill="none" stroke="#b01018" stroke-width="0.4" stroke-opacity="0.45"/>
<circle cx="481.21" cy="288.69" r="1.3" fill="none" stroke="#b01018" stroke-width="0.4" stroke-opacity="0.45"/>
<circle cx="481.10" cy="281.32" r="1.3" fill="none" stroke="#b01018" stroke-width="0.4" stroke-opacity="0.45"/>
<circle cx="479.52" cy="290.17" r="1.3" fill="none" stroke="#b01018" stroke-width="0.4" stroke-opacity="0.45"/>
<circle cx="480.16" cy="295.49" r="1.3" fill="none" stroke="#b01018" stroke-width="0.4" stroke-opacity="0.45"/>
<circle cx="479.94" cy="270.65" r="1.3" fill="none" stroke="#b01018" stroke-width="0.4" stroke-opacity="0.45"/>
<circle cx="479.77" cy="274.79" r="1.3" fill="none" stroke="#b01018" stroke-width="0.4" stroke-opacity="0.45"/>
<circle cx="479.86" cy="285.66" r="1.3" fill="none" stroke="#b01018" stroke-width="0.4" stroke-opacity="0.45"/>
<circle cx="479.52" cy="286.59" r="1.3" fill="none" stroke="#b01018" stroke-width="0.4" stroke-opacity="0.45"/>
<circle cx="481.33" cy="268.73" r="1.3" fill="none" stroke="#b01018" stroke-width="0.4" stroke-opacity="0.45"/>
<circle cx="480.73" cy="299.27" r="1.3" fill="none" stroke="#b01018" stroke-width="0.4" stroke-opacity="0.45"/>
<circle cx="480.34" cy="285.04" r="1.3" fill="none" stroke="#b01018" stroke-width="0.4" stroke-opacity="0.45"/>
<circle cx="481.21" cy="294.50" r="1.3" fill="none" stroke="#b01018" stroke-width="0.4" stroke-opacity="0.45"/>
<circle cx="479.69" cy="294.87" r="1.3" fill="none" stroke="#b01018" stroke-width="0.4" stroke-opacity="0.45"/>
<circle cx="480.85" cy="271.74" r="1.3" fill="none" stroke="#b01018" stroke-width="0.4" stroke-opacity="0.45"/>
<circle cx="479.56" cy="303.28" r="1.3" fill="none" stroke="#b01018" stroke-width="0.4" stroke-opacity="0.45"/>
<circle cx="481.19" cy="294.21" r="1.3" fill="none" stroke="#b01018" stroke-width="0.4" stroke-opacity="0.45"/>
<circle cx="480.97" cy="280.20" r="1.3" fill="none" stroke="#b01018" stroke-width="0.4" stroke-opacity="0.45"/>
<circle cx="480.36" cy="279.91" r="1.3" fill="none" stroke="#b01018" stroke-width="0.4" stroke-opacity="0.45"/>
<circle cx="479.68" cy="282.12" r="1.3" fill="none" stroke="#b01018" stroke-width="0.4" stroke-opacity="0.45"/>
<circle cx="480.70" cy="293.77" r="1.3" fill="none" stroke="#b01018" stroke-width="0.4" stroke-opacity="0.45"/>
<circle cx="479.50" cy="287.75" r="1.3" fill="none" stroke="#b01018" stroke-width="0.4" stroke-opacity="0.45"/>
<circle cx="479.33" cy="278.98" r="1.3" fill="none" stroke="#b01018" stroke-width="0.4" stroke-opacity="0.45"/>
<rect x="477.15" y="287.80" width="6.2" height="4.60" fill="#fce8e4"/>
<circle cx="480.25" cy="253.80" r="1.5" fill="#fff" fill-opacity="0.8" stroke="#de1826" stroke-width="0.7"/>
<circle cx="480.25" cy="311.00" r="1.5" fill="#fff" fill-opacity="0.8" stroke="#de1826" stroke-width="0.7"/>
<rect x="314.5" y="207.9" width="198.89999999999998" height="129.4" fill="none" stroke="#1c1c1c" stroke-width="1.3"/>
<line x1="311.9" y1="337.30" x2="314.5" y2="337.30" stroke="#1c1c1c" stroke-width="0.9"/>
<text x="309.20" y="339.50" text-anchor="end" font-size="7.5">0</text>
<line x1="311.9" y1="321.12" x2="314.5" y2="321.12" stroke="#1c1c1c" stroke-width="0.9"/>
<text x="309.20" y="323.32" text-anchor="end" font-size="7.5">1</text>
<line x1="311.9" y1="304.95" x2="314.5" y2="304.95" stroke="#1c1c1c" stroke-width="0.9"/>
<text x="309.20" y="307.15" text-anchor="end" font-size="7.5">2</text>
<line x1="311.9" y1="288.77" x2="314.5" y2="288.77" stroke="#1c1c1c" stroke-width="0.9"/>
<text x="309.20" y="290.97" text-anchor="end" font-size="7.5">3</text>
<line x1="311.9" y1="272.60" x2="314.5" y2="272.60" stroke="#1c1c1c" stroke-width="0.9"/>
<text x="309.20" y="274.80" text-anchor="end" font-size="7.5">4</text>
<line x1="311.9" y1="256.43" x2="314.5" y2="256.43" stroke="#1c1c1c" stroke-width="0.9"/>
<text x="309.20" y="258.62" text-anchor="end" font-size="7.5">5</text>
<line x1="311.9" y1="240.25" x2="314.5" y2="240.25" stroke="#1c1c1c" stroke-width="0.9"/>
<text x="309.20" y="242.45" text-anchor="end" font-size="7.5">6</text>
<line x1="311.9" y1="224.07" x2="314.5" y2="224.07" stroke="#1c1c1c" stroke-width="0.9"/>
<text x="309.20" y="226.27" text-anchor="end" font-size="7.5">7</text>
<line x1="311.9" y1="207.90" x2="314.5" y2="207.90" stroke="#1c1c1c" stroke-width="0.9"/>
<text x="309.20" y="210.10" text-anchor="end" font-size="7.5">8</text>
<line x1="347.65" y1="337.3" x2="347.65" y2="340.1" stroke="#1c1c1c" stroke-width="0.9"/>
<text x="347.65" y="348.1" text-anchor="middle" font-size="7.5">0</text>
<line x1="413.95" y1="337.3" x2="413.95" y2="340.1" stroke="#1c1c1c" stroke-width="0.9"/>
<text x="413.95" y="348.1" text-anchor="middle" font-size="7.5">1</text>
<line x1="480.25" y1="337.3" x2="480.25" y2="340.1" stroke="#1c1c1c" stroke-width="0.9"/>
<text x="480.25" y="348.1" text-anchor="middle" font-size="7.5">2</text>
<text x="349.85" y="332.90000000000003" text-anchor="middle" font-size="7.7">n = 22</text>
<text x="416.15" y="332.90000000000003" text-anchor="middle" font-size="7.7">n = 56</text>
<text x="482.45" y="332.90000000000003" text-anchor="middle" font-size="7.7">n = 65</text>
<text transform="translate(413.95,359.3) scale(0.72,1)" text-anchor="middle" font-size="8.7" class="tt">Venous hyperintensity score</text>
<text x="280.6" y="200.6" font-size="10.6" font-weight="bold" class="pl">D</text>
<path d="M347.65,227.40 V223.80 H480.25 V227.40" fill="none" stroke="#333" stroke-width="1"/>
<text x="413.95" y="222.20" text-anchor="middle" font-size="7.5">***: <tspan font-style="italic">P</tspan> &lt; .001</text>
<path d="M413.95,237.20 V233.60 H480.25 V237.20" fill="none" stroke="#333" stroke-width="1"/>
<text x="447.10" y="232.00" text-anchor="middle" font-size="7.5">***: <tspan font-style="italic">P</tspan> &lt; .001</text>
<text transform="translate(299.2,272.60) rotate(-90) scale(0.72,1)" text-anchor="middle" font-size="8.7" class="ty">CMRO<tspan font-size="6.6" dy="1.9">2</tspan><tspan dy="-1.9"> (ml O<tspan font-size="6.6" dy="1.9">2</tspan><tspan dy="-1.9">/100g tissue/min)</tspan></tspan></text>
</svg></body></html>
